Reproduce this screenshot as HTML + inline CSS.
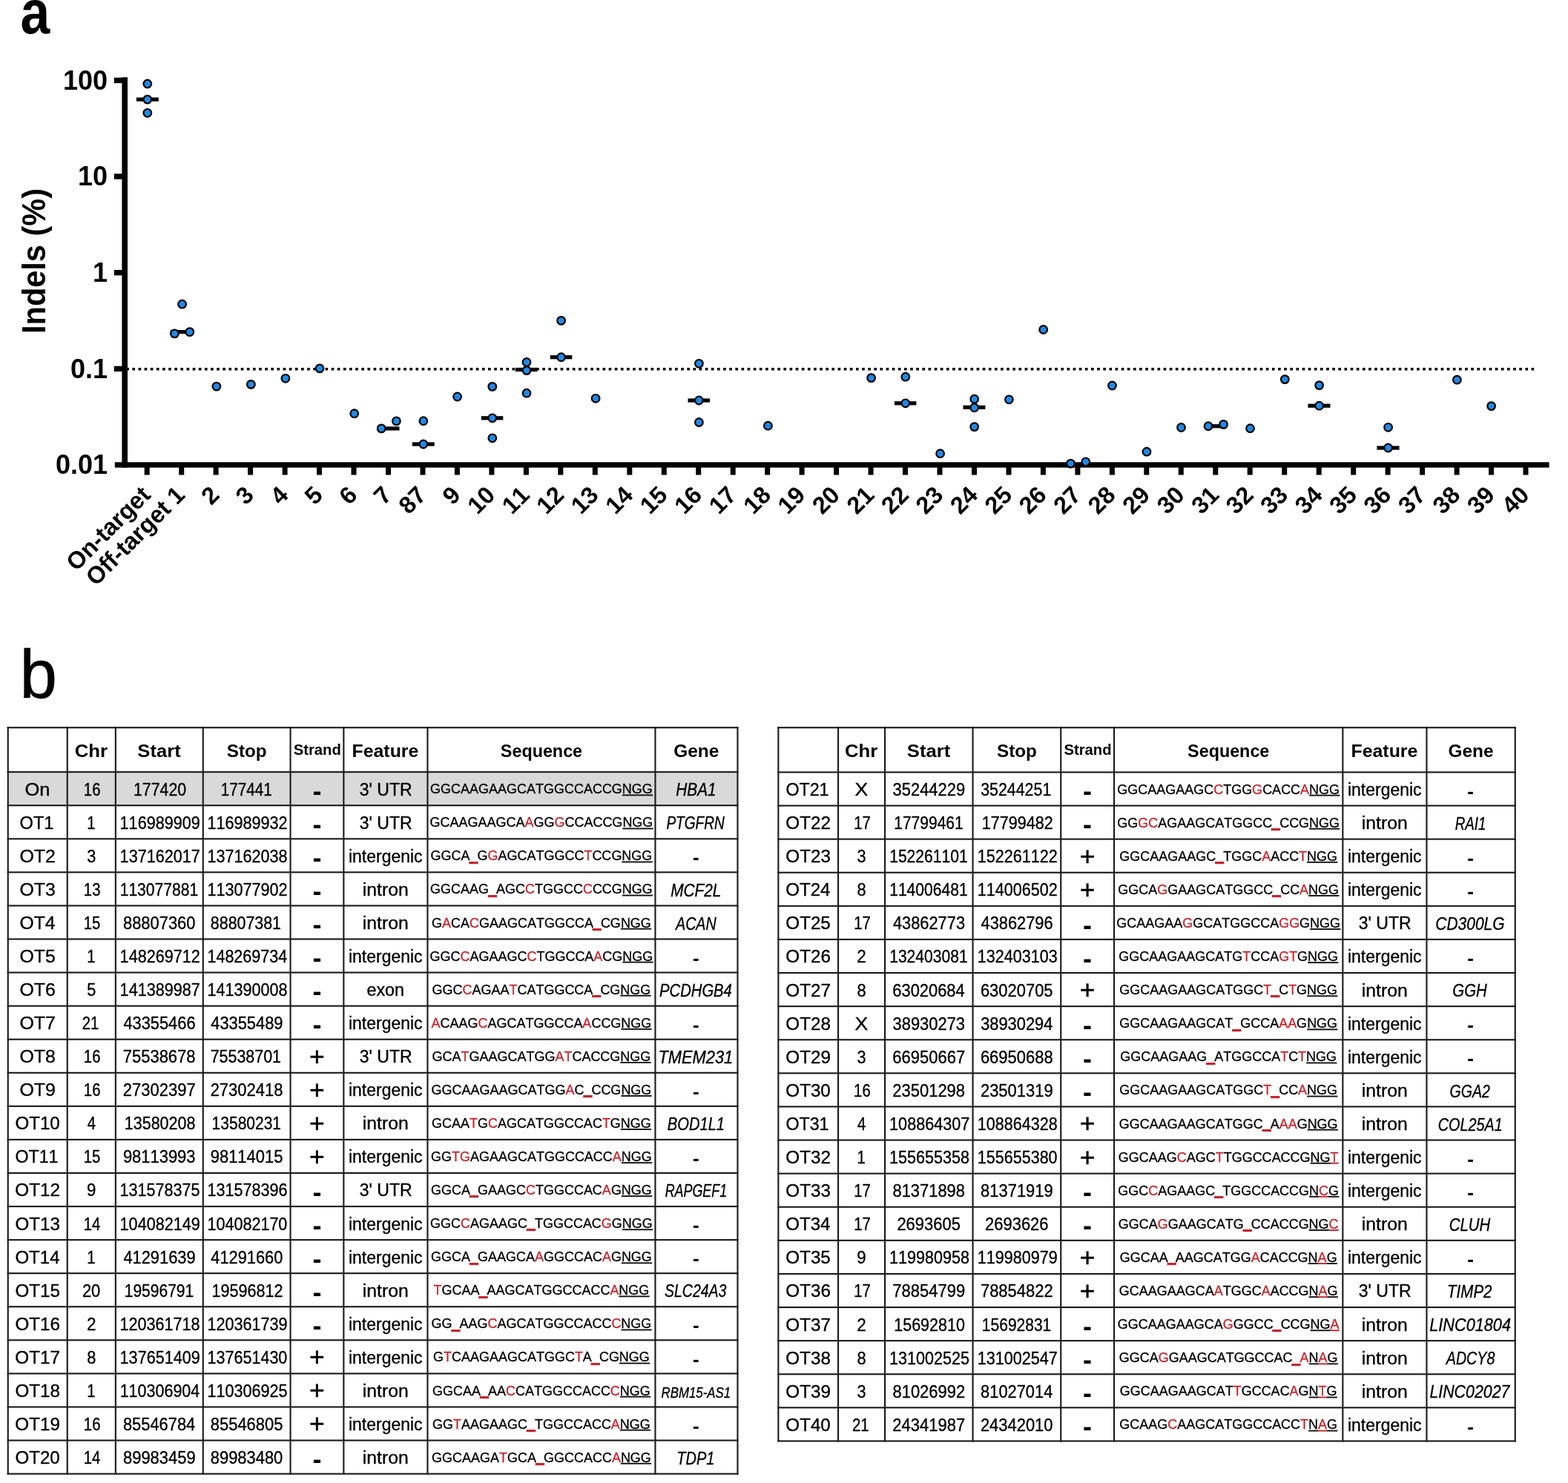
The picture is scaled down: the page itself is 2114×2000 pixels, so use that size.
<!DOCTYPE html>
<html><head><meta charset="utf-8"><title>Off-target indels</title>
<style>html,body{margin:0;padding:0;background:#fff;} svg{display:block;} text{font-kerning:none;}</style>
</head><body>
<svg width="2114" height="2000" viewBox="0 0 2114 2000" font-family="&quot;Liberation Sans&quot;, sans-serif" fill="#000"><g id="chart">
<rect x="164.4" y="104.2" width="7.6" height="526.4" fill="#000"/>
<rect x="153.8" y="104.7" width="12" height="7.4" fill="#000"/>
<rect x="153.8" y="234.3" width="12" height="7.4" fill="#000"/>
<rect x="153.8" y="364.0" width="12" height="7.4" fill="#000"/>
<rect x="153.8" y="493.7" width="12" height="7.4" fill="#000"/>
<rect x="154.8" y="623.3" width="1933.8" height="7.3" fill="#000"/>
<rect x="194.7" y="626" width="7" height="14.5" fill="#000"/>
<rect x="241.2" y="626" width="7" height="14.5" fill="#000"/>
<rect x="287.6" y="626" width="7" height="14.5" fill="#000"/>
<rect x="334.1" y="626" width="7" height="14.5" fill="#000"/>
<rect x="380.6" y="626" width="7" height="14.5" fill="#000"/>
<rect x="427.0" y="626" width="7" height="14.5" fill="#000"/>
<rect x="473.5" y="626" width="7" height="14.5" fill="#000"/>
<rect x="520.0" y="626" width="7" height="14.5" fill="#000"/>
<rect x="566.5" y="626" width="7" height="14.5" fill="#000"/>
<rect x="612.9" y="626" width="7" height="14.5" fill="#000"/>
<rect x="659.4" y="626" width="7" height="14.5" fill="#000"/>
<rect x="705.9" y="626" width="7" height="14.5" fill="#000"/>
<rect x="752.3" y="626" width="7" height="14.5" fill="#000"/>
<rect x="798.8" y="626" width="7" height="14.5" fill="#000"/>
<rect x="845.3" y="626" width="7" height="14.5" fill="#000"/>
<rect x="891.8" y="626" width="7" height="14.5" fill="#000"/>
<rect x="938.2" y="626" width="7" height="14.5" fill="#000"/>
<rect x="984.7" y="626" width="7" height="14.5" fill="#000"/>
<rect x="1031.2" y="626" width="7" height="14.5" fill="#000"/>
<rect x="1077.6" y="626" width="7" height="14.5" fill="#000"/>
<rect x="1124.1" y="626" width="7" height="14.5" fill="#000"/>
<rect x="1170.6" y="626" width="7" height="14.5" fill="#000"/>
<rect x="1217.0" y="626" width="7" height="14.5" fill="#000"/>
<rect x="1263.5" y="626" width="7" height="14.5" fill="#000"/>
<rect x="1310.0" y="626" width="7" height="14.5" fill="#000"/>
<rect x="1356.5" y="626" width="7" height="14.5" fill="#000"/>
<rect x="1402.9" y="626" width="7" height="14.5" fill="#000"/>
<rect x="1449.4" y="626" width="7" height="14.5" fill="#000"/>
<rect x="1495.9" y="626" width="7" height="14.5" fill="#000"/>
<rect x="1542.3" y="626" width="7" height="14.5" fill="#000"/>
<rect x="1588.8" y="626" width="7" height="14.5" fill="#000"/>
<rect x="1635.3" y="626" width="7" height="14.5" fill="#000"/>
<rect x="1681.7" y="626" width="7" height="14.5" fill="#000"/>
<rect x="1728.2" y="626" width="7" height="14.5" fill="#000"/>
<rect x="1774.7" y="626" width="7" height="14.5" fill="#000"/>
<rect x="1821.2" y="626" width="7" height="14.5" fill="#000"/>
<rect x="1867.6" y="626" width="7" height="14.5" fill="#000"/>
<rect x="1914.1" y="626" width="7" height="14.5" fill="#000"/>
<rect x="1960.6" y="626" width="7" height="14.5" fill="#000"/>
<rect x="2007.0" y="626" width="7" height="14.5" fill="#000"/>
<rect x="2053.5" y="626" width="7" height="14.5" fill="#000"/>
<line x1="170.25" y1="497.8" x2="2068.3" y2="497.8" stroke="#000" stroke-width="3.6" stroke-dasharray="3.65 4.48"/>
<rect x="183.9" y="131.5" width="29.9" height="5.2" fill="#000"/>
<rect x="229.7" y="445.0" width="30.0" height="5.2" fill="#000"/>
<rect x="508.5" y="575.3" width="30.0" height="5.2" fill="#000"/>
<rect x="555.8" y="596.4" width="29.9" height="5.2" fill="#000"/>
<rect x="648.8" y="561.2" width="29.5" height="5.2" fill="#000"/>
<rect x="694.9" y="495.9" width="29.5" height="5.2" fill="#000"/>
<rect x="741.8" y="479.1" width="29.5" height="5.2" fill="#000"/>
<rect x="927.5" y="537.4" width="29.5" height="5.2" fill="#000"/>
<rect x="1205.9" y="541.2" width="29.5" height="5.2" fill="#000"/>
<rect x="1298.5" y="546.7" width="29.9" height="5.2" fill="#000"/>
<rect x="1623.8" y="572.1" width="30.0" height="5.2" fill="#000"/>
<rect x="1763.4" y="544.6" width="30.1" height="5.2" fill="#000"/>
<rect x="1856.4" y="601.4" width="30.2" height="5.2" fill="#000"/>
<circle cx="198.8" cy="113" r="5.3" fill="#2089e6" stroke="#000" stroke-width="2.2"/>
<circle cx="198.8" cy="134.1" r="5.3" fill="#2089e6" stroke="#000" stroke-width="2.2"/>
<circle cx="198.8" cy="152.3" r="5.3" fill="#2089e6" stroke="#000" stroke-width="2.2"/>
<circle cx="245.6" cy="410.2" r="5.3" fill="#2089e6" stroke="#000" stroke-width="2.2"/>
<circle cx="235.4" cy="449.9" r="5.3" fill="#2089e6" stroke="#000" stroke-width="2.2"/>
<circle cx="255.8" cy="447.6" r="5.3" fill="#2089e6" stroke="#000" stroke-width="2.2"/>
<circle cx="291.9" cy="521.1" r="5.3" fill="#2089e6" stroke="#000" stroke-width="2.2"/>
<circle cx="338.4" cy="518.4" r="5.3" fill="#2089e6" stroke="#000" stroke-width="2.2"/>
<circle cx="384.9" cy="510.3" r="5.3" fill="#2089e6" stroke="#000" stroke-width="2.2"/>
<circle cx="431" cy="496.9" r="5.3" fill="#2089e6" stroke="#000" stroke-width="2.2"/>
<circle cx="477.7" cy="557.7" r="5.3" fill="#2089e6" stroke="#000" stroke-width="2.2"/>
<circle cx="514.2" cy="577.9" r="5.3" fill="#2089e6" stroke="#000" stroke-width="2.2"/>
<circle cx="534.4" cy="567.9" r="5.3" fill="#2089e6" stroke="#000" stroke-width="2.2"/>
<circle cx="570.8" cy="567.7" r="5.3" fill="#2089e6" stroke="#000" stroke-width="2.2"/>
<circle cx="570.8" cy="599" r="5.3" fill="#2089e6" stroke="#000" stroke-width="2.2"/>
<circle cx="616.6" cy="535" r="5.3" fill="#2089e6" stroke="#000" stroke-width="2.2"/>
<circle cx="663.8" cy="521.4" r="5.3" fill="#2089e6" stroke="#000" stroke-width="2.2"/>
<circle cx="663.8" cy="563.8" r="5.3" fill="#2089e6" stroke="#000" stroke-width="2.2"/>
<circle cx="663.8" cy="590.8" r="5.3" fill="#2089e6" stroke="#000" stroke-width="2.2"/>
<circle cx="710" cy="488.5" r="5.3" fill="#2089e6" stroke="#000" stroke-width="2.2"/>
<circle cx="710" cy="499.6" r="5.3" fill="#2089e6" stroke="#000" stroke-width="2.2"/>
<circle cx="710" cy="530.2" r="5.3" fill="#2089e6" stroke="#000" stroke-width="2.2"/>
<circle cx="756.6" cy="432.4" r="5.3" fill="#2089e6" stroke="#000" stroke-width="2.2"/>
<circle cx="756.6" cy="481.7" r="5.3" fill="#2089e6" stroke="#000" stroke-width="2.2"/>
<circle cx="803.1" cy="537.3" r="5.3" fill="#2089e6" stroke="#000" stroke-width="2.2"/>
<circle cx="942.4" cy="490.3" r="5.3" fill="#2089e6" stroke="#000" stroke-width="2.2"/>
<circle cx="942.4" cy="540" r="5.3" fill="#2089e6" stroke="#000" stroke-width="2.2"/>
<circle cx="942.4" cy="569.5" r="5.3" fill="#2089e6" stroke="#000" stroke-width="2.2"/>
<circle cx="1035.4" cy="574.2" r="5.3" fill="#2089e6" stroke="#000" stroke-width="2.2"/>
<circle cx="1174.6" cy="509.6" r="5.3" fill="#2089e6" stroke="#000" stroke-width="2.2"/>
<circle cx="1220.8" cy="508.2" r="5.3" fill="#2089e6" stroke="#000" stroke-width="2.2"/>
<circle cx="1220.8" cy="543.8" r="5.3" fill="#2089e6" stroke="#000" stroke-width="2.2"/>
<circle cx="1267.6" cy="611.7" r="5.3" fill="#2089e6" stroke="#000" stroke-width="2.2"/>
<circle cx="1313.7" cy="538.2" r="5.3" fill="#2089e6" stroke="#000" stroke-width="2.2"/>
<circle cx="1313.7" cy="549.7" r="5.3" fill="#2089e6" stroke="#000" stroke-width="2.2"/>
<circle cx="1313.7" cy="575.6" r="5.3" fill="#2089e6" stroke="#000" stroke-width="2.2"/>
<circle cx="1360.4" cy="538.8" r="5.3" fill="#2089e6" stroke="#000" stroke-width="2.2"/>
<circle cx="1406.7" cy="444.5" r="5.3" fill="#2089e6" stroke="#000" stroke-width="2.2"/>
<circle cx="1443.5" cy="625.1" r="5.3" fill="#2089e6" stroke="#000" stroke-width="2.2"/>
<circle cx="1463.8" cy="622.8" r="5.3" fill="#2089e6" stroke="#000" stroke-width="2.2"/>
<circle cx="1499.5" cy="520" r="5.3" fill="#2089e6" stroke="#000" stroke-width="2.2"/>
<circle cx="1546" cy="609.2" r="5.3" fill="#2089e6" stroke="#000" stroke-width="2.2"/>
<circle cx="1592.5" cy="576.5" r="5.3" fill="#2089e6" stroke="#000" stroke-width="2.2"/>
<circle cx="1629" cy="574.7" r="5.3" fill="#2089e6" stroke="#000" stroke-width="2.2"/>
<circle cx="1649.5" cy="572.4" r="5.3" fill="#2089e6" stroke="#000" stroke-width="2.2"/>
<circle cx="1685.5" cy="577.7" r="5.3" fill="#2089e6" stroke="#000" stroke-width="2.2"/>
<circle cx="1732.3" cy="511.6" r="5.3" fill="#2089e6" stroke="#000" stroke-width="2.2"/>
<circle cx="1778.6" cy="519.6" r="5.3" fill="#2089e6" stroke="#000" stroke-width="2.2"/>
<circle cx="1778.6" cy="547.2" r="5.3" fill="#2089e6" stroke="#000" stroke-width="2.2"/>
<circle cx="1871.6" cy="576.3" r="5.3" fill="#2089e6" stroke="#000" stroke-width="2.2"/>
<circle cx="1871.6" cy="604" r="5.3" fill="#2089e6" stroke="#000" stroke-width="2.2"/>
<circle cx="1964.4" cy="512.2" r="5.3" fill="#2089e6" stroke="#000" stroke-width="2.2"/>
<circle cx="2010.6" cy="547.6" r="5.3" fill="#2089e6" stroke="#000" stroke-width="2.2"/>
<text x="145" y="120.5" font-size="36" font-weight="bold" text-anchor="end">100</text>
<text x="145" y="250.1" font-size="36" font-weight="bold" text-anchor="end">10</text>
<text x="145" y="379.8" font-size="36" font-weight="bold" text-anchor="end">1</text>
<text x="145" y="509.5" font-size="36" font-weight="bold" text-anchor="end">0.1</text>
<text x="145" y="639.1" font-size="36" font-weight="bold" text-anchor="end">0.01</text>
<text transform="translate(60.6,352) rotate(-90)" font-size="44" font-weight="bold" text-anchor="middle" textLength="196" lengthAdjust="spacingAndGlyphs">Indels (%)</text>
<text transform="translate(204.7,669.5) rotate(-45)" font-size="32.5" font-weight="bold" text-anchor="end" textLength="144.1" lengthAdjust="spacingAndGlyphs">On-target</text>
<text transform="translate(251.2,669.5) rotate(-45)" font-size="32.5" font-weight="bold" text-anchor="end" textLength="172.5" lengthAdjust="spacingAndGlyphs">Off-target 1</text>
<text transform="translate(297.6,669.5) rotate(-45)" font-size="32.5" font-weight="bold" text-anchor="end">2</text>
<text transform="translate(344.1,669.5) rotate(-45)" font-size="32.5" font-weight="bold" text-anchor="end">3</text>
<text transform="translate(390.6,669.5) rotate(-45)" font-size="32.5" font-weight="bold" text-anchor="end">4</text>
<text transform="translate(437.0,669.5) rotate(-45)" font-size="32.5" font-weight="bold" text-anchor="end">5</text>
<text transform="translate(483.5,669.5) rotate(-45)" font-size="32.5" font-weight="bold" text-anchor="end">6</text>
<text transform="translate(530.0,669.5) rotate(-45)" font-size="32.5" font-weight="bold" text-anchor="end">7</text>
<text transform="translate(576.5,669.5) rotate(-45)" font-size="32.5" font-weight="bold" text-anchor="end">87</text>
<text transform="translate(622.9,669.5) rotate(-45)" font-size="32.5" font-weight="bold" text-anchor="end">9</text>
<text transform="translate(669.4,669.5) rotate(-45)" font-size="32.5" font-weight="bold" text-anchor="end">10</text>
<text transform="translate(715.9,669.5) rotate(-45)" font-size="32.5" font-weight="bold" text-anchor="end">11</text>
<text transform="translate(762.3,669.5) rotate(-45)" font-size="32.5" font-weight="bold" text-anchor="end">12</text>
<text transform="translate(808.8,669.5) rotate(-45)" font-size="32.5" font-weight="bold" text-anchor="end">13</text>
<text transform="translate(855.3,669.5) rotate(-45)" font-size="32.5" font-weight="bold" text-anchor="end">14</text>
<text transform="translate(901.8,669.5) rotate(-45)" font-size="32.5" font-weight="bold" text-anchor="end">15</text>
<text transform="translate(948.2,669.5) rotate(-45)" font-size="32.5" font-weight="bold" text-anchor="end">16</text>
<text transform="translate(994.7,669.5) rotate(-45)" font-size="32.5" font-weight="bold" text-anchor="end">17</text>
<text transform="translate(1041.2,669.5) rotate(-45)" font-size="32.5" font-weight="bold" text-anchor="end">18</text>
<text transform="translate(1087.6,669.5) rotate(-45)" font-size="32.5" font-weight="bold" text-anchor="end">19</text>
<text transform="translate(1134.1,669.5) rotate(-45)" font-size="32.5" font-weight="bold" text-anchor="end">20</text>
<text transform="translate(1180.6,669.5) rotate(-45)" font-size="32.5" font-weight="bold" text-anchor="end">21</text>
<text transform="translate(1227.0,669.5) rotate(-45)" font-size="32.5" font-weight="bold" text-anchor="end">22</text>
<text transform="translate(1273.5,669.5) rotate(-45)" font-size="32.5" font-weight="bold" text-anchor="end">23</text>
<text transform="translate(1320.0,669.5) rotate(-45)" font-size="32.5" font-weight="bold" text-anchor="end">24</text>
<text transform="translate(1366.5,669.5) rotate(-45)" font-size="32.5" font-weight="bold" text-anchor="end">25</text>
<text transform="translate(1412.9,669.5) rotate(-45)" font-size="32.5" font-weight="bold" text-anchor="end">26</text>
<text transform="translate(1459.4,669.5) rotate(-45)" font-size="32.5" font-weight="bold" text-anchor="end">27</text>
<text transform="translate(1505.9,669.5) rotate(-45)" font-size="32.5" font-weight="bold" text-anchor="end">28</text>
<text transform="translate(1552.3,669.5) rotate(-45)" font-size="32.5" font-weight="bold" text-anchor="end">29</text>
<text transform="translate(1598.8,669.5) rotate(-45)" font-size="32.5" font-weight="bold" text-anchor="end">30</text>
<text transform="translate(1645.3,669.5) rotate(-45)" font-size="32.5" font-weight="bold" text-anchor="end">31</text>
<text transform="translate(1691.7,669.5) rotate(-45)" font-size="32.5" font-weight="bold" text-anchor="end">32</text>
<text transform="translate(1738.2,669.5) rotate(-45)" font-size="32.5" font-weight="bold" text-anchor="end">33</text>
<text transform="translate(1784.7,669.5) rotate(-45)" font-size="32.5" font-weight="bold" text-anchor="end">34</text>
<text transform="translate(1831.2,669.5) rotate(-45)" font-size="32.5" font-weight="bold" text-anchor="end">35</text>
<text transform="translate(1877.6,669.5) rotate(-45)" font-size="32.5" font-weight="bold" text-anchor="end">36</text>
<text transform="translate(1924.1,669.5) rotate(-45)" font-size="32.5" font-weight="bold" text-anchor="end">37</text>
<text transform="translate(1970.6,669.5) rotate(-45)" font-size="32.5" font-weight="bold" text-anchor="end">38</text>
<text transform="translate(2017.0,669.5) rotate(-45)" font-size="32.5" font-weight="bold" text-anchor="end">39</text>
<text transform="translate(2063.5,669.5) rotate(-45)" font-size="32.5" font-weight="bold" text-anchor="end">40</text>
</g>
<text transform="translate(27.6,45.4) scale(0.864,1)" font-size="82.7" font-weight="bold">a</text>
<text transform="translate(26.7,941) scale(0.97,1)" font-size="93" stroke="#000" stroke-width="0.7">b</text>
<rect x="10.7" y="1041.1" width="983.6999999999999" height="45.07" fill="#d9d9d9"/>
<rect x="9.7" y="980.20" width="985.6999999999999" height="2.1" fill="#1a1a1a"/>
<rect x="9.7" y="1040.10" width="985.6999999999999" height="2.1" fill="#1a1a1a"/>
<rect x="9.7" y="1085.17" width="985.6999999999999" height="2.1" fill="#1a1a1a"/>
<rect x="9.7" y="1130.24" width="985.6999999999999" height="2.1" fill="#1a1a1a"/>
<rect x="9.7" y="1175.31" width="985.6999999999999" height="2.1" fill="#1a1a1a"/>
<rect x="9.7" y="1220.38" width="985.6999999999999" height="2.1" fill="#1a1a1a"/>
<rect x="9.7" y="1265.45" width="985.6999999999999" height="2.1" fill="#1a1a1a"/>
<rect x="9.7" y="1310.52" width="985.6999999999999" height="2.1" fill="#1a1a1a"/>
<rect x="9.7" y="1355.59" width="985.6999999999999" height="2.1" fill="#1a1a1a"/>
<rect x="9.7" y="1400.66" width="985.6999999999999" height="2.1" fill="#1a1a1a"/>
<rect x="9.7" y="1445.73" width="985.6999999999999" height="2.1" fill="#1a1a1a"/>
<rect x="9.7" y="1490.80" width="985.6999999999999" height="2.1" fill="#1a1a1a"/>
<rect x="9.7" y="1535.87" width="985.6999999999999" height="2.1" fill="#1a1a1a"/>
<rect x="9.7" y="1580.94" width="985.6999999999999" height="2.1" fill="#1a1a1a"/>
<rect x="9.7" y="1626.01" width="985.6999999999999" height="2.1" fill="#1a1a1a"/>
<rect x="9.7" y="1671.08" width="985.6999999999999" height="2.1" fill="#1a1a1a"/>
<rect x="9.7" y="1716.15" width="985.6999999999999" height="2.1" fill="#1a1a1a"/>
<rect x="9.7" y="1761.22" width="985.6999999999999" height="2.1" fill="#1a1a1a"/>
<rect x="9.7" y="1806.29" width="985.6999999999999" height="2.1" fill="#1a1a1a"/>
<rect x="9.7" y="1851.36" width="985.6999999999999" height="2.1" fill="#1a1a1a"/>
<rect x="9.7" y="1896.43" width="985.6999999999999" height="2.1" fill="#1a1a1a"/>
<rect x="9.7" y="1941.50" width="985.6999999999999" height="2.1" fill="#1a1a1a"/>
<rect x="9.7" y="1986.57" width="985.6999999999999" height="2.1" fill="#1a1a1a"/>
<rect x="9.70" y="980.2" width="2.1" height="1008.37" fill="#1a1a1a"/>
<rect x="89.70" y="980.2" width="2.1" height="1008.37" fill="#1a1a1a"/>
<rect x="154.80" y="980.2" width="2.1" height="1008.37" fill="#1a1a1a"/>
<rect x="272.70" y="980.2" width="2.1" height="1008.37" fill="#1a1a1a"/>
<rect x="390.50" y="980.2" width="2.1" height="1008.37" fill="#1a1a1a"/>
<rect x="462.30" y="980.2" width="2.1" height="1008.37" fill="#1a1a1a"/>
<rect x="575.40" y="980.2" width="2.1" height="1008.37" fill="#1a1a1a"/>
<rect x="882.40" y="980.2" width="2.1" height="1008.37" fill="#1a1a1a"/>
<rect x="993.40" y="980.2" width="2.1" height="1008.37" fill="#1a1a1a"/>
<text x="100.69" y="1020.5" font-size="24" font-weight="bold" textLength="44.45" lengthAdjust="spacingAndGlyphs">Chr</text>
<text x="185.36" y="1020.5" font-size="24" font-weight="bold" textLength="58.35" lengthAdjust="spacingAndGlyphs">Start</text>
<text x="305.80" y="1020.5" font-size="24" font-weight="bold" textLength="53.89" lengthAdjust="spacingAndGlyphs">Stop</text>
<text x="395.72" y="1017.9" font-size="20.5" font-weight="bold" textLength="64.12" lengthAdjust="spacingAndGlyphs">Strand</text>
<text x="474.54" y="1020.5" font-size="24" font-weight="bold" textLength="89.81" lengthAdjust="spacingAndGlyphs">Feature</text>
<text x="674.83" y="1020.5" font-size="24" font-weight="bold" textLength="110.27" lengthAdjust="spacingAndGlyphs">Sequence</text>
<text x="908.25" y="1020.5" font-size="24" font-weight="bold" textLength="61.14" lengthAdjust="spacingAndGlyphs">Gene</text>
<text x="33.57" y="1072.6" font-size="24.2" textLength="33.97" lengthAdjust="spacingAndGlyphs" stroke="#000" stroke-width="0.35">On</text>
<text x="112.84" y="1072.6" font-size="24.2" textLength="22.61" lengthAdjust="spacingAndGlyphs" stroke="#000" stroke-width="0.35">16</text>
<text x="179.94" y="1072.6" font-size="24.2" textLength="71.27" lengthAdjust="spacingAndGlyphs" stroke="#000" stroke-width="0.35">177420</text>
<text x="297.84" y="1072.6" font-size="24.2" textLength="68.95" lengthAdjust="spacingAndGlyphs" stroke="#000" stroke-width="0.35">177441</text>
<text x="427.4" y="1078.8" font-size="36" font-weight="bold" text-anchor="middle">-</text>
<text x="484.69" y="1072.6" font-size="24.2" textLength="71.00" lengthAdjust="spacingAndGlyphs" stroke="#000" stroke-width="0.35">3' UTR</text>
<g transform="translate(579.94,0) scale(0.947,1)"><text y="1070.3" font-size="19.0" stroke="#000" stroke-width="0.3"><tspan x="0.00" y="1070.3">G</tspan><tspan x="14.78" y="1070.3">G</tspan><tspan x="29.56" y="1070.3">C</tspan><tspan x="43.28" y="1070.3">A</tspan><tspan x="55.95" y="1070.3">A</tspan><tspan x="68.62" y="1070.3">G</tspan><tspan x="83.40" y="1070.3">A</tspan><tspan x="96.08" y="1070.3">A</tspan><tspan x="108.75" y="1070.3">G</tspan><tspan x="123.53" y="1070.3">C</tspan><tspan x="137.25" y="1070.3">A</tspan><tspan x="149.92" y="1070.3">T</tspan><tspan x="161.53" y="1070.3">G</tspan><tspan x="176.31" y="1070.3">G</tspan><tspan x="191.09" y="1070.3">C</tspan><tspan x="204.81" y="1070.3">C</tspan><tspan x="218.53" y="1070.3">A</tspan><tspan x="231.20" y="1070.3">C</tspan><tspan x="244.92" y="1070.3">C</tspan><tspan x="258.64" y="1070.3">G</tspan><tspan x="273.42" y="1070.3">N</tspan><tspan x="287.14" y="1070.3">G</tspan><tspan x="301.92" y="1070.3">G</tspan></text><rect x="273.42" y="1071.4" width="14.02" height="1.9" fill="#111"/><rect x="287.14" y="1071.4" width="15.08" height="1.9" fill="#111"/><rect x="301.92" y="1071.4" width="15.08" height="1.9" fill="#111"/></g>
<text x="911.31" y="1073.3" font-size="24.2" font-style="italic" textLength="54.30" lengthAdjust="spacingAndGlyphs" stroke="#000" stroke-width="0.35">HBA1</text>
<text x="26.52" y="1117.7" font-size="24.2" textLength="45.95" lengthAdjust="spacingAndGlyphs" stroke="#000" stroke-width="0.35">OT1</text>
<text x="117.32" y="1117.7" font-size="24.2" textLength="11.31" lengthAdjust="spacingAndGlyphs" stroke="#000" stroke-width="0.35">1</text>
<text x="161.62" y="1117.7" font-size="24.2" textLength="108.08" lengthAdjust="spacingAndGlyphs" stroke="#000" stroke-width="0.35">116989909</text>
<text x="279.47" y="1117.7" font-size="24.2" textLength="108.14" lengthAdjust="spacingAndGlyphs" stroke="#000" stroke-width="0.35">116989932</text>
<text x="427.4" y="1123.9" font-size="36" font-weight="bold" text-anchor="middle">-</text>
<text x="484.69" y="1117.7" font-size="24.2" textLength="71.00" lengthAdjust="spacingAndGlyphs" stroke="#000" stroke-width="0.35">3' UTR</text>
<g transform="translate(579.44,0) scale(0.947,1)"><text y="1115.4" font-size="19.0" stroke="#000" stroke-width="0.3"><tspan x="0.00" y="1115.4">G</tspan><tspan x="14.78" y="1115.4">C</tspan><tspan x="28.50" y="1115.4">A</tspan><tspan x="41.17" y="1115.4">A</tspan><tspan x="53.85" y="1115.4">G</tspan><tspan x="68.62" y="1115.4">A</tspan><tspan x="81.30" y="1115.4">A</tspan><tspan x="93.97" y="1115.4">G</tspan><tspan x="108.75" y="1115.4">C</tspan><tspan x="122.47" y="1115.4">A</tspan><tspan x="135.14" y="1115.4" fill="#c4262e" stroke="#c4262e">A</tspan><tspan x="147.82" y="1115.4">G</tspan><tspan x="162.59" y="1115.4">G</tspan><tspan x="177.37" y="1115.4" fill="#c4262e" stroke="#c4262e">G</tspan><tspan x="192.15" y="1115.4">C</tspan><tspan x="205.87" y="1115.4">C</tspan><tspan x="219.59" y="1115.4">A</tspan><tspan x="232.27" y="1115.4">C</tspan><tspan x="245.99" y="1115.4">C</tspan><tspan x="259.71" y="1115.4">G</tspan><tspan x="274.49" y="1115.4">N</tspan><tspan x="288.21" y="1115.4">G</tspan><tspan x="302.99" y="1115.4">G</tspan></text><rect x="274.49" y="1116.5" width="14.02" height="1.9" fill="#111"/><rect x="288.21" y="1116.5" width="15.08" height="1.9" fill="#111"/><rect x="302.99" y="1116.5" width="15.08" height="1.9" fill="#111"/></g>
<text x="898.41" y="1118.4" font-size="24.2" font-style="italic" textLength="78.38" lengthAdjust="spacingAndGlyphs" stroke="#000" stroke-width="0.35">PTGFRN</text>
<text x="26.46" y="1162.7" font-size="24.2" textLength="48.55" lengthAdjust="spacingAndGlyphs" stroke="#000" stroke-width="0.35">OT2</text>
<text x="117.30" y="1162.7" font-size="24.2" textLength="12.02" lengthAdjust="spacingAndGlyphs" stroke="#000" stroke-width="0.35">3</text>
<text x="161.62" y="1162.7" font-size="24.2" textLength="108.14" lengthAdjust="spacingAndGlyphs" stroke="#000" stroke-width="0.35">137162017</text>
<text x="279.47" y="1162.7" font-size="24.2" textLength="107.99" lengthAdjust="spacingAndGlyphs" stroke="#000" stroke-width="0.35">137162038</text>
<text x="427.4" y="1168.9" font-size="36" font-weight="bold" text-anchor="middle">-</text>
<text x="470.00" y="1162.7" font-size="24.2" textLength="99.50" lengthAdjust="spacingAndGlyphs" stroke="#000" stroke-width="0.35">intergenic</text>
<g transform="translate(580.45,0) scale(0.947,1)"><text y="1160.4" font-size="19.0" stroke="#000" stroke-width="0.3"><tspan x="0.00" y="1160.4">G</tspan><tspan x="14.78" y="1160.4">G</tspan><tspan x="29.56" y="1160.4">C</tspan><tspan x="43.28" y="1160.4">A</tspan><tspan x="55.95" y="1159.7" fill="#c4262e" stroke="#c4262e" stroke-width="2.0">_</tspan><tspan x="66.52" y="1160.4">G</tspan><tspan x="81.30" y="1160.4" fill="#c4262e" stroke="#c4262e">G</tspan><tspan x="96.08" y="1160.4">A</tspan><tspan x="108.75" y="1160.4">G</tspan><tspan x="123.53" y="1160.4">C</tspan><tspan x="137.25" y="1160.4">A</tspan><tspan x="149.92" y="1160.4">T</tspan><tspan x="161.53" y="1160.4">G</tspan><tspan x="176.31" y="1160.4">G</tspan><tspan x="191.09" y="1160.4">C</tspan><tspan x="204.81" y="1160.4">C</tspan><tspan x="218.53" y="1160.4" fill="#c4262e" stroke="#c4262e">T</tspan><tspan x="230.13" y="1160.4">C</tspan><tspan x="243.85" y="1160.4">C</tspan><tspan x="257.58" y="1160.4">G</tspan><tspan x="272.35" y="1160.4">N</tspan><tspan x="286.08" y="1160.4">G</tspan><tspan x="300.85" y="1160.4">G</tspan></text><rect x="272.35" y="1161.5" width="14.02" height="1.9" fill="#111"/><rect x="286.08" y="1161.5" width="15.08" height="1.9" fill="#111"/><rect x="300.85" y="1161.5" width="15.08" height="1.9" fill="#111"/></g>
<text x="938.3" y="1165.4" font-size="26" font-weight="bold" text-anchor="middle">-</text>
<text x="26.46" y="1207.8" font-size="24.2" textLength="48.39" lengthAdjust="spacingAndGlyphs" stroke="#000" stroke-width="0.35">OT3</text>
<text x="112.84" y="1207.8" font-size="24.2" textLength="22.61" lengthAdjust="spacingAndGlyphs" stroke="#000" stroke-width="0.35">13</text>
<text x="161.66" y="1207.8" font-size="24.2" textLength="105.61" lengthAdjust="spacingAndGlyphs" stroke="#000" stroke-width="0.35">113077881</text>
<text x="279.47" y="1207.8" font-size="24.2" textLength="108.14" lengthAdjust="spacingAndGlyphs" stroke="#000" stroke-width="0.35">113077902</text>
<text x="427.4" y="1214.0" font-size="36" font-weight="bold" text-anchor="middle">-</text>
<text x="488.85" y="1207.8" font-size="24.2" textLength="61.95" lengthAdjust="spacingAndGlyphs" stroke="#000" stroke-width="0.35">intron</text>
<g transform="translate(579.95,0) scale(0.947,1)"><text y="1205.5" font-size="19.0" stroke="#000" stroke-width="0.3"><tspan x="0.00" y="1205.5">G</tspan><tspan x="14.78" y="1205.5">G</tspan><tspan x="29.56" y="1205.5">C</tspan><tspan x="43.28" y="1205.5">A</tspan><tspan x="55.95" y="1205.5">A</tspan><tspan x="68.62" y="1205.5">G</tspan><tspan x="83.40" y="1204.8" fill="#c4262e" stroke="#c4262e" stroke-width="2.0">_</tspan><tspan x="93.97" y="1205.5">A</tspan><tspan x="106.64" y="1205.5">G</tspan><tspan x="121.42" y="1205.5">C</tspan><tspan x="135.14" y="1205.5" fill="#c4262e" stroke="#c4262e">C</tspan><tspan x="148.86" y="1205.5">T</tspan><tspan x="160.47" y="1205.5">G</tspan><tspan x="175.25" y="1205.5">G</tspan><tspan x="190.03" y="1205.5">C</tspan><tspan x="203.75" y="1205.5">C</tspan><tspan x="217.47" y="1205.5" fill="#c4262e" stroke="#c4262e">C</tspan><tspan x="231.19" y="1205.5">C</tspan><tspan x="244.91" y="1205.5">C</tspan><tspan x="258.63" y="1205.5">G</tspan><tspan x="273.41" y="1205.5">N</tspan><tspan x="287.13" y="1205.5">G</tspan><tspan x="301.91" y="1205.5">G</tspan></text><rect x="273.41" y="1206.6" width="14.02" height="1.9" fill="#111"/><rect x="287.13" y="1206.6" width="15.08" height="1.9" fill="#111"/><rect x="301.91" y="1206.6" width="15.08" height="1.9" fill="#111"/></g>
<text x="904.16" y="1208.5" font-size="24.2" font-style="italic" textLength="68.30" lengthAdjust="spacingAndGlyphs" stroke="#000" stroke-width="0.35">MCF2L</text>
<text x="26.47" y="1252.9" font-size="24.2" textLength="48.01" lengthAdjust="spacingAndGlyphs" stroke="#000" stroke-width="0.35">OT4</text>
<text x="112.82" y="1252.9" font-size="24.2" textLength="22.61" lengthAdjust="spacingAndGlyphs" stroke="#000" stroke-width="0.35">15</text>
<text x="165.97" y="1252.9" font-size="24.2" textLength="97.46" lengthAdjust="spacingAndGlyphs" stroke="#000" stroke-width="0.35">88807360</text>
<text x="283.85" y="1252.9" font-size="24.2" textLength="95.18" lengthAdjust="spacingAndGlyphs" stroke="#000" stroke-width="0.35">88807381</text>
<text x="427.4" y="1259.1" font-size="36" font-weight="bold" text-anchor="middle">-</text>
<text x="488.85" y="1252.9" font-size="24.2" textLength="61.95" lengthAdjust="spacingAndGlyphs" stroke="#000" stroke-width="0.35">intron</text>
<g transform="translate(581.94,0) scale(0.947,1)"><text y="1250.6" font-size="19.0" stroke="#000" stroke-width="0.3"><tspan x="0.00" y="1250.6">G</tspan><tspan x="14.78" y="1250.6" fill="#c4262e" stroke="#c4262e">A</tspan><tspan x="27.45" y="1250.6">C</tspan><tspan x="41.17" y="1250.6">A</tspan><tspan x="53.85" y="1250.6" fill="#c4262e" stroke="#c4262e">C</tspan><tspan x="67.57" y="1250.6">G</tspan><tspan x="82.35" y="1250.6">A</tspan><tspan x="95.02" y="1250.6">A</tspan><tspan x="107.69" y="1250.6">G</tspan><tspan x="122.47" y="1250.6">C</tspan><tspan x="136.19" y="1250.6">A</tspan><tspan x="148.86" y="1250.6">T</tspan><tspan x="160.47" y="1250.6">G</tspan><tspan x="175.25" y="1250.6">G</tspan><tspan x="190.03" y="1250.6">C</tspan><tspan x="203.75" y="1250.6">C</tspan><tspan x="217.47" y="1250.6">A</tspan><tspan x="230.14" y="1249.9" fill="#c4262e" stroke="#c4262e" stroke-width="2.0">_</tspan><tspan x="240.71" y="1250.6">C</tspan><tspan x="254.43" y="1250.6">G</tspan><tspan x="269.21" y="1250.6">N</tspan><tspan x="282.93" y="1250.6">G</tspan><tspan x="297.71" y="1250.6">G</tspan></text><rect x="269.21" y="1251.7" width="14.02" height="1.9" fill="#111"/><rect x="282.93" y="1251.7" width="15.08" height="1.9" fill="#111"/><rect x="297.71" y="1251.7" width="15.08" height="1.9" fill="#111"/></g>
<text x="911.12" y="1253.6" font-size="24.2" font-style="italic" textLength="54.52" lengthAdjust="spacingAndGlyphs" stroke="#000" stroke-width="0.35">ACAN</text>
<text x="26.46" y="1297.9" font-size="24.2" textLength="48.34" lengthAdjust="spacingAndGlyphs" stroke="#000" stroke-width="0.35">OT5</text>
<text x="117.32" y="1297.9" font-size="24.2" textLength="11.31" lengthAdjust="spacingAndGlyphs" stroke="#000" stroke-width="0.35">1</text>
<text x="161.62" y="1297.9" font-size="24.2" textLength="108.14" lengthAdjust="spacingAndGlyphs" stroke="#000" stroke-width="0.35">148269712</text>
<text x="279.48" y="1297.9" font-size="24.2" textLength="107.68" lengthAdjust="spacingAndGlyphs" stroke="#000" stroke-width="0.35">148269734</text>
<text x="427.4" y="1304.1" font-size="36" font-weight="bold" text-anchor="middle">-</text>
<text x="470.00" y="1297.9" font-size="24.2" textLength="99.50" lengthAdjust="spacingAndGlyphs" stroke="#000" stroke-width="0.35">intergenic</text>
<g transform="translate(579.45,0) scale(0.947,1)"><text y="1295.6" font-size="19.0" stroke="#000" stroke-width="0.3"><tspan x="0.00" y="1295.6">G</tspan><tspan x="14.78" y="1295.6">G</tspan><tspan x="29.56" y="1295.6">C</tspan><tspan x="43.28" y="1295.6" fill="#c4262e" stroke="#c4262e">C</tspan><tspan x="57.00" y="1295.6">A</tspan><tspan x="69.67" y="1295.6">G</tspan><tspan x="84.45" y="1295.6">A</tspan><tspan x="97.12" y="1295.6">A</tspan><tspan x="109.80" y="1295.6">G</tspan><tspan x="124.58" y="1295.6">C</tspan><tspan x="138.30" y="1295.6" fill="#c4262e" stroke="#c4262e">C</tspan><tspan x="152.02" y="1295.6">T</tspan><tspan x="163.62" y="1295.6">G</tspan><tspan x="178.40" y="1295.6">G</tspan><tspan x="193.18" y="1295.6">C</tspan><tspan x="206.90" y="1295.6">C</tspan><tspan x="220.62" y="1295.6">A</tspan><tspan x="233.30" y="1295.6" fill="#c4262e" stroke="#c4262e">A</tspan><tspan x="245.97" y="1295.6">C</tspan><tspan x="259.69" y="1295.6">G</tspan><tspan x="274.47" y="1295.6">N</tspan><tspan x="288.19" y="1295.6">G</tspan><tspan x="302.97" y="1295.6">G</tspan></text><rect x="274.47" y="1296.7" width="14.02" height="1.9" fill="#111"/><rect x="288.19" y="1296.7" width="15.08" height="1.9" fill="#111"/><rect x="302.97" y="1296.7" width="15.08" height="1.9" fill="#111"/></g>
<text x="938.3" y="1300.6" font-size="26" font-weight="bold" text-anchor="middle">-</text>
<text x="26.46" y="1343.0" font-size="24.2" textLength="48.39" lengthAdjust="spacingAndGlyphs" stroke="#000" stroke-width="0.35">OT6</text>
<text x="117.26" y="1343.0" font-size="24.2" textLength="12.02" lengthAdjust="spacingAndGlyphs" stroke="#000" stroke-width="0.35">5</text>
<text x="161.62" y="1343.0" font-size="24.2" textLength="108.14" lengthAdjust="spacingAndGlyphs" stroke="#000" stroke-width="0.35">141389987</text>
<text x="279.47" y="1343.0" font-size="24.2" textLength="107.99" lengthAdjust="spacingAndGlyphs" stroke="#000" stroke-width="0.35">141390008</text>
<text x="427.4" y="1349.2" font-size="36" font-weight="bold" text-anchor="middle">-</text>
<text x="494.46" y="1343.0" font-size="24.2" textLength="50.57" lengthAdjust="spacingAndGlyphs" stroke="#000" stroke-width="0.35">exon</text>
<g transform="translate(582.44,0) scale(0.947,1)"><text y="1340.7" font-size="19.0" stroke="#000" stroke-width="0.3"><tspan x="0.00" y="1340.7">G</tspan><tspan x="14.78" y="1340.7">G</tspan><tspan x="29.56" y="1340.7">C</tspan><tspan x="43.28" y="1340.7" fill="#c4262e" stroke="#c4262e">C</tspan><tspan x="57.00" y="1340.7">A</tspan><tspan x="69.67" y="1340.7">G</tspan><tspan x="84.45" y="1340.7">A</tspan><tspan x="97.12" y="1340.7">A</tspan><tspan x="109.80" y="1340.7" fill="#c4262e" stroke="#c4262e">T</tspan><tspan x="121.40" y="1340.7">C</tspan><tspan x="135.12" y="1340.7">A</tspan><tspan x="147.80" y="1340.7">T</tspan><tspan x="159.40" y="1340.7">G</tspan><tspan x="174.18" y="1340.7">G</tspan><tspan x="188.96" y="1340.7">C</tspan><tspan x="202.68" y="1340.7">C</tspan><tspan x="216.40" y="1340.7">A</tspan><tspan x="229.08" y="1340.0" fill="#c4262e" stroke="#c4262e" stroke-width="2.0">_</tspan><tspan x="239.64" y="1340.7">C</tspan><tspan x="253.36" y="1340.7">G</tspan><tspan x="268.14" y="1340.7">N</tspan><tspan x="281.86" y="1340.7">G</tspan><tspan x="296.64" y="1340.7">G</tspan></text><rect x="268.14" y="1341.8" width="14.02" height="1.9" fill="#111"/><rect x="281.86" y="1341.8" width="15.08" height="1.9" fill="#111"/><rect x="296.64" y="1341.8" width="15.08" height="1.9" fill="#111"/></g>
<text x="889.08" y="1343.7" font-size="24.2" font-style="italic" textLength="97.78" lengthAdjust="spacingAndGlyphs" stroke="#000" stroke-width="0.35">PCDHGB4</text>
<text x="26.46" y="1388.1" font-size="24.2" textLength="48.55" lengthAdjust="spacingAndGlyphs" stroke="#000" stroke-width="0.35">OT7</text>
<text x="110.71" y="1388.1" font-size="24.2" textLength="22.61" lengthAdjust="spacingAndGlyphs" stroke="#000" stroke-width="0.35">21</text>
<text x="166.43" y="1388.1" font-size="24.2" textLength="97.11" lengthAdjust="spacingAndGlyphs" stroke="#000" stroke-width="0.35">43355466</text>
<text x="284.27" y="1388.1" font-size="24.2" textLength="97.18" lengthAdjust="spacingAndGlyphs" stroke="#000" stroke-width="0.35">43355489</text>
<text x="427.4" y="1394.3" font-size="36" font-weight="bold" text-anchor="middle">-</text>
<text x="470.00" y="1388.1" font-size="24.2" textLength="99.50" lengthAdjust="spacingAndGlyphs" stroke="#000" stroke-width="0.35">intergenic</text>
<g transform="translate(581.44,0) scale(0.947,1)"><text y="1385.8" font-size="19.0" stroke="#000" stroke-width="0.3"><tspan x="0.00" y="1385.8" fill="#c4262e" stroke="#c4262e">A</tspan><tspan x="12.67" y="1385.8">C</tspan><tspan x="26.39" y="1385.8">A</tspan><tspan x="39.07" y="1385.8">A</tspan><tspan x="51.74" y="1385.8">G</tspan><tspan x="66.52" y="1385.8" fill="#c4262e" stroke="#c4262e">C</tspan><tspan x="80.24" y="1385.8">A</tspan><tspan x="92.91" y="1385.8">G</tspan><tspan x="107.69" y="1385.8">C</tspan><tspan x="121.41" y="1385.8">A</tspan><tspan x="134.09" y="1385.8">T</tspan><tspan x="145.69" y="1385.8">G</tspan><tspan x="160.47" y="1385.8">G</tspan><tspan x="175.25" y="1385.8">C</tspan><tspan x="188.97" y="1385.8">C</tspan><tspan x="202.69" y="1385.8">A</tspan><tspan x="215.36" y="1385.8" fill="#c4262e" stroke="#c4262e">A</tspan><tspan x="228.04" y="1385.8">C</tspan><tspan x="241.76" y="1385.8">C</tspan><tspan x="255.48" y="1385.8">G</tspan><tspan x="270.26" y="1385.8">N</tspan><tspan x="283.98" y="1385.8">G</tspan><tspan x="298.76" y="1385.8">G</tspan></text><rect x="270.26" y="1386.9" width="14.02" height="1.9" fill="#111"/><rect x="283.98" y="1386.9" width="15.08" height="1.9" fill="#111"/><rect x="298.76" y="1386.9" width="15.08" height="1.9" fill="#111"/></g>
<text x="938.3" y="1390.8" font-size="26" font-weight="bold" text-anchor="middle">-</text>
<text x="26.46" y="1433.2" font-size="24.2" textLength="48.38" lengthAdjust="spacingAndGlyphs" stroke="#000" stroke-width="0.35">OT8</text>
<text x="112.84" y="1433.2" font-size="24.2" textLength="22.61" lengthAdjust="spacingAndGlyphs" stroke="#000" stroke-width="0.35">16</text>
<text x="165.80" y="1433.2" font-size="24.2" textLength="97.73" lengthAdjust="spacingAndGlyphs" stroke="#000" stroke-width="0.35">75538678</text>
<text x="283.68" y="1433.2" font-size="24.2" textLength="95.35" lengthAdjust="spacingAndGlyphs" stroke="#000" stroke-width="0.35">75538701</text>
<text x="427.4" y="1436.7" font-size="35.5" text-anchor="middle" stroke="#000" stroke-width="0.45">+</text>
<text x="484.69" y="1433.2" font-size="24.2" textLength="71.00" lengthAdjust="spacingAndGlyphs" stroke="#000" stroke-width="0.35">3' UTR</text>
<g transform="translate(582.45,0) scale(0.947,1)"><text y="1430.9" font-size="19.0" stroke="#000" stroke-width="0.3"><tspan x="0.00" y="1430.9">G</tspan><tspan x="14.78" y="1430.9">C</tspan><tspan x="28.50" y="1430.9">A</tspan><tspan x="41.17" y="1430.9" fill="#c4262e" stroke="#c4262e">T</tspan><tspan x="52.78" y="1430.9">G</tspan><tspan x="67.56" y="1430.9">A</tspan><tspan x="80.23" y="1430.9">A</tspan><tspan x="92.90" y="1430.9">G</tspan><tspan x="107.68" y="1430.9">C</tspan><tspan x="121.40" y="1430.9">A</tspan><tspan x="134.08" y="1430.9">T</tspan><tspan x="145.68" y="1430.9">G</tspan><tspan x="160.46" y="1430.9">G</tspan><tspan x="175.24" y="1430.9" fill="#c4262e" stroke="#c4262e">A</tspan><tspan x="187.91" y="1430.9" fill="#c4262e" stroke="#c4262e">T</tspan><tspan x="199.52" y="1430.9">C</tspan><tspan x="213.24" y="1430.9">A</tspan><tspan x="225.91" y="1430.9">C</tspan><tspan x="239.63" y="1430.9">C</tspan><tspan x="253.35" y="1430.9">G</tspan><tspan x="268.13" y="1430.9">N</tspan><tspan x="281.85" y="1430.9">G</tspan><tspan x="296.63" y="1430.9">G</tspan></text><rect x="268.13" y="1432.0" width="14.02" height="1.9" fill="#111"/><rect x="281.85" y="1432.0" width="15.08" height="1.9" fill="#111"/><rect x="296.63" y="1432.0" width="15.08" height="1.9" fill="#111"/></g>
<text x="887.38" y="1433.9" font-size="24.2" font-style="italic" textLength="100.91" lengthAdjust="spacingAndGlyphs" stroke="#000" stroke-width="0.35">TMEM231</text>
<text x="26.46" y="1478.2" font-size="24.2" textLength="48.48" lengthAdjust="spacingAndGlyphs" stroke="#000" stroke-width="0.35">OT9</text>
<text x="112.84" y="1478.2" font-size="24.2" textLength="22.61" lengthAdjust="spacingAndGlyphs" stroke="#000" stroke-width="0.35">16</text>
<text x="165.82" y="1478.2" font-size="24.2" textLength="97.86" lengthAdjust="spacingAndGlyphs" stroke="#000" stroke-width="0.35">27302397</text>
<text x="283.67" y="1478.2" font-size="24.2" textLength="97.71" lengthAdjust="spacingAndGlyphs" stroke="#000" stroke-width="0.35">27302418</text>
<text x="427.4" y="1481.7" font-size="35.5" text-anchor="middle" stroke="#000" stroke-width="0.45">+</text>
<text x="470.00" y="1478.2" font-size="24.2" textLength="99.50" lengthAdjust="spacingAndGlyphs" stroke="#000" stroke-width="0.35">intergenic</text>
<g transform="translate(581.44,0) scale(0.947,1)"><text y="1475.9" font-size="19.0" stroke="#000" stroke-width="0.3"><tspan x="0.00" y="1475.9">G</tspan><tspan x="14.78" y="1475.9">G</tspan><tspan x="29.56" y="1475.9">C</tspan><tspan x="43.28" y="1475.9">A</tspan><tspan x="55.95" y="1475.9">A</tspan><tspan x="68.62" y="1475.9">G</tspan><tspan x="83.40" y="1475.9">A</tspan><tspan x="96.08" y="1475.9">A</tspan><tspan x="108.75" y="1475.9">G</tspan><tspan x="123.53" y="1475.9">C</tspan><tspan x="137.25" y="1475.9">A</tspan><tspan x="149.92" y="1475.9">T</tspan><tspan x="161.53" y="1475.9">G</tspan><tspan x="176.31" y="1475.9">G</tspan><tspan x="191.09" y="1475.9" fill="#c4262e" stroke="#c4262e">A</tspan><tspan x="203.76" y="1475.9">C</tspan><tspan x="217.48" y="1475.2" fill="#c4262e" stroke="#c4262e" stroke-width="2.0">_</tspan><tspan x="228.05" y="1475.9">C</tspan><tspan x="241.77" y="1475.9">C</tspan><tspan x="255.49" y="1475.9">G</tspan><tspan x="270.27" y="1475.9">N</tspan><tspan x="283.99" y="1475.9">G</tspan><tspan x="298.77" y="1475.9">G</tspan></text><rect x="270.27" y="1477.0" width="14.02" height="1.9" fill="#111"/><rect x="283.99" y="1477.0" width="15.08" height="1.9" fill="#111"/><rect x="298.77" y="1477.0" width="15.08" height="1.9" fill="#111"/></g>
<text x="938.3" y="1480.9" font-size="26" font-weight="bold" text-anchor="middle">-</text>
<text x="20.40" y="1523.3" font-size="24.2" textLength="60.40" lengthAdjust="spacingAndGlyphs" stroke="#000" stroke-width="0.35">OT10</text>
<text x="117.66" y="1523.3" font-size="24.2" textLength="11.31" lengthAdjust="spacingAndGlyphs" stroke="#000" stroke-width="0.35">4</text>
<text x="167.73" y="1523.3" font-size="24.2" textLength="95.78" lengthAdjust="spacingAndGlyphs" stroke="#000" stroke-width="0.35">13580208</text>
<text x="285.62" y="1523.3" font-size="24.2" textLength="93.39" lengthAdjust="spacingAndGlyphs" stroke="#000" stroke-width="0.35">13580231</text>
<text x="427.4" y="1526.8" font-size="35.5" text-anchor="middle" stroke="#000" stroke-width="0.45">+</text>
<text x="488.85" y="1523.3" font-size="24.2" textLength="61.95" lengthAdjust="spacingAndGlyphs" stroke="#000" stroke-width="0.35">intron</text>
<g transform="translate(581.95,0) scale(0.947,1)"><text y="1521.0" font-size="19.0" stroke="#000" stroke-width="0.3"><tspan x="0.00" y="1521.0">G</tspan><tspan x="14.78" y="1521.0">C</tspan><tspan x="28.50" y="1521.0">A</tspan><tspan x="41.17" y="1521.0">A</tspan><tspan x="53.85" y="1521.0" fill="#c4262e" stroke="#c4262e">T</tspan><tspan x="65.45" y="1521.0">G</tspan><tspan x="80.23" y="1521.0" fill="#c4262e" stroke="#c4262e">C</tspan><tspan x="93.95" y="1521.0">A</tspan><tspan x="106.62" y="1521.0">G</tspan><tspan x="121.40" y="1521.0">C</tspan><tspan x="135.12" y="1521.0">A</tspan><tspan x="147.80" y="1521.0">T</tspan><tspan x="159.40" y="1521.0">G</tspan><tspan x="174.18" y="1521.0">G</tspan><tspan x="188.96" y="1521.0">C</tspan><tspan x="202.68" y="1521.0">C</tspan><tspan x="216.40" y="1521.0">A</tspan><tspan x="229.08" y="1521.0">C</tspan><tspan x="242.80" y="1521.0" fill="#c4262e" stroke="#c4262e">T</tspan><tspan x="254.40" y="1521.0">G</tspan><tspan x="269.18" y="1521.0">N</tspan><tspan x="282.90" y="1521.0">G</tspan><tspan x="297.68" y="1521.0">G</tspan></text><rect x="269.18" y="1522.1" width="14.02" height="1.9" fill="#111"/><rect x="282.90" y="1522.1" width="15.08" height="1.9" fill="#111"/><rect x="297.68" y="1522.1" width="15.08" height="1.9" fill="#111"/></g>
<text x="899.83" y="1524.0" font-size="24.2" font-style="italic" textLength="77.22" lengthAdjust="spacingAndGlyphs" stroke="#000" stroke-width="0.35">BOD1L1</text>
<text x="20.44" y="1568.4" font-size="24.2" textLength="58.11" lengthAdjust="spacingAndGlyphs" stroke="#000" stroke-width="0.35">OT11</text>
<text x="112.82" y="1568.4" font-size="24.2" textLength="22.61" lengthAdjust="spacingAndGlyphs" stroke="#000" stroke-width="0.35">15</text>
<text x="165.90" y="1568.4" font-size="24.2" textLength="97.64" lengthAdjust="spacingAndGlyphs" stroke="#000" stroke-width="0.35">98113993</text>
<text x="283.75" y="1568.4" font-size="24.2" textLength="97.60" lengthAdjust="spacingAndGlyphs" stroke="#000" stroke-width="0.35">98114015</text>
<text x="427.4" y="1571.9" font-size="35.5" text-anchor="middle" stroke="#000" stroke-width="0.45">+</text>
<text x="470.00" y="1568.4" font-size="24.2" textLength="99.50" lengthAdjust="spacingAndGlyphs" stroke="#000" stroke-width="0.35">intergenic</text>
<g transform="translate(580.94,0) scale(0.947,1)"><text y="1566.1" font-size="19.0" stroke="#000" stroke-width="0.3"><tspan x="0.00" y="1566.1">G</tspan><tspan x="14.78" y="1566.1">G</tspan><tspan x="29.56" y="1566.1" fill="#c4262e" stroke="#c4262e">T</tspan><tspan x="41.16" y="1566.1" fill="#c4262e" stroke="#c4262e">G</tspan><tspan x="55.94" y="1566.1">A</tspan><tspan x="68.62" y="1566.1">G</tspan><tspan x="83.39" y="1566.1">A</tspan><tspan x="96.07" y="1566.1">A</tspan><tspan x="108.74" y="1566.1">G</tspan><tspan x="123.52" y="1566.1">C</tspan><tspan x="137.24" y="1566.1">A</tspan><tspan x="149.91" y="1566.1">T</tspan><tspan x="161.52" y="1566.1">G</tspan><tspan x="176.30" y="1566.1">G</tspan><tspan x="191.08" y="1566.1">C</tspan><tspan x="204.80" y="1566.1">C</tspan><tspan x="218.52" y="1566.1">A</tspan><tspan x="231.19" y="1566.1">C</tspan><tspan x="244.91" y="1566.1">C</tspan><tspan x="258.63" y="1566.1" fill="#c4262e" stroke="#c4262e">A</tspan><tspan x="271.31" y="1566.1">N</tspan><tspan x="285.03" y="1566.1">G</tspan><tspan x="299.81" y="1566.1">G</tspan></text><rect x="271.31" y="1567.2" width="14.02" height="1.9" fill="#111"/><rect x="285.03" y="1567.2" width="15.08" height="1.9" fill="#111"/><rect x="299.81" y="1567.2" width="15.08" height="1.9" fill="#111"/></g>
<text x="938.3" y="1571.1" font-size="26" font-weight="bold" text-anchor="middle">-</text>
<text x="20.39" y="1613.4" font-size="24.2" textLength="60.69" lengthAdjust="spacingAndGlyphs" stroke="#000" stroke-width="0.35">OT12</text>
<text x="117.09" y="1613.4" font-size="24.2" textLength="12.34" lengthAdjust="spacingAndGlyphs" stroke="#000" stroke-width="0.35">9</text>
<text x="161.62" y="1613.4" font-size="24.2" textLength="107.96" lengthAdjust="spacingAndGlyphs" stroke="#000" stroke-width="0.35">131578375</text>
<text x="279.47" y="1613.4" font-size="24.2" textLength="108.00" lengthAdjust="spacingAndGlyphs" stroke="#000" stroke-width="0.35">131578396</text>
<text x="427.4" y="1619.6" font-size="36" font-weight="bold" text-anchor="middle">-</text>
<text x="484.69" y="1613.4" font-size="24.2" textLength="71.00" lengthAdjust="spacingAndGlyphs" stroke="#000" stroke-width="0.35">3' UTR</text>
<g transform="translate(580.94,0) scale(0.947,1)"><text y="1611.1" font-size="19.0" stroke="#000" stroke-width="0.3"><tspan x="0.00" y="1611.1">G</tspan><tspan x="14.78" y="1611.1">G</tspan><tspan x="29.56" y="1611.1">C</tspan><tspan x="43.28" y="1611.1">A</tspan><tspan x="55.95" y="1610.4" fill="#c4262e" stroke="#c4262e" stroke-width="2.0">_</tspan><tspan x="66.52" y="1611.1">G</tspan><tspan x="81.30" y="1611.1">A</tspan><tspan x="93.97" y="1611.1">A</tspan><tspan x="106.64" y="1611.1">G</tspan><tspan x="121.42" y="1611.1">C</tspan><tspan x="135.14" y="1611.1" fill="#c4262e" stroke="#c4262e">C</tspan><tspan x="148.86" y="1611.1">T</tspan><tspan x="160.47" y="1611.1">G</tspan><tspan x="175.25" y="1611.1">G</tspan><tspan x="190.03" y="1611.1">C</tspan><tspan x="203.75" y="1611.1">C</tspan><tspan x="217.47" y="1611.1">A</tspan><tspan x="230.14" y="1611.1">C</tspan><tspan x="243.86" y="1611.1" fill="#c4262e" stroke="#c4262e">A</tspan><tspan x="256.54" y="1611.1">G</tspan><tspan x="271.32" y="1611.1">N</tspan><tspan x="285.04" y="1611.1">G</tspan><tspan x="299.82" y="1611.1">G</tspan></text><rect x="271.32" y="1612.2" width="14.02" height="1.9" fill="#111"/><rect x="285.04" y="1612.2" width="15.08" height="1.9" fill="#111"/><rect x="299.82" y="1612.2" width="15.08" height="1.9" fill="#111"/></g>
<text x="896.65" y="1614.1" font-size="24.2" font-style="italic" textLength="83.46" lengthAdjust="spacingAndGlyphs" stroke="#000" stroke-width="0.35">RAPGEF1</text>
<text x="20.40" y="1658.5" font-size="24.2" textLength="60.53" lengthAdjust="spacingAndGlyphs" stroke="#000" stroke-width="0.35">OT13</text>
<text x="112.69" y="1658.5" font-size="24.2" textLength="22.61" lengthAdjust="spacingAndGlyphs" stroke="#000" stroke-width="0.35">14</text>
<text x="161.62" y="1658.5" font-size="24.2" textLength="108.08" lengthAdjust="spacingAndGlyphs" stroke="#000" stroke-width="0.35">104082149</text>
<text x="279.47" y="1658.5" font-size="24.2" textLength="107.89" lengthAdjust="spacingAndGlyphs" stroke="#000" stroke-width="0.35">104082170</text>
<text x="427.4" y="1664.7" font-size="36" font-weight="bold" text-anchor="middle">-</text>
<text x="470.00" y="1658.5" font-size="24.2" textLength="99.50" lengthAdjust="spacingAndGlyphs" stroke="#000" stroke-width="0.35">intergenic</text>
<g transform="translate(579.94,0) scale(0.947,1)"><text y="1656.2" font-size="19.0" stroke="#000" stroke-width="0.3"><tspan x="0.00" y="1656.2">G</tspan><tspan x="14.78" y="1656.2">G</tspan><tspan x="29.56" y="1656.2">C</tspan><tspan x="43.28" y="1656.2" fill="#c4262e" stroke="#c4262e">C</tspan><tspan x="57.00" y="1656.2">A</tspan><tspan x="69.67" y="1656.2">G</tspan><tspan x="84.45" y="1656.2">A</tspan><tspan x="97.12" y="1656.2">A</tspan><tspan x="109.80" y="1656.2">G</tspan><tspan x="124.58" y="1656.2">C</tspan><tspan x="138.30" y="1655.5" fill="#c4262e" stroke="#c4262e" stroke-width="2.0">_</tspan><tspan x="148.86" y="1656.2">T</tspan><tspan x="160.47" y="1656.2">G</tspan><tspan x="175.25" y="1656.2">G</tspan><tspan x="190.03" y="1656.2">C</tspan><tspan x="203.75" y="1656.2">C</tspan><tspan x="217.47" y="1656.2">A</tspan><tspan x="230.14" y="1656.2">C</tspan><tspan x="243.86" y="1656.2" fill="#c4262e" stroke="#c4262e">G</tspan><tspan x="258.64" y="1656.2">G</tspan><tspan x="273.42" y="1656.2">N</tspan><tspan x="287.14" y="1656.2">G</tspan><tspan x="301.92" y="1656.2">G</tspan></text><rect x="273.42" y="1657.3" width="14.02" height="1.9" fill="#111"/><rect x="287.14" y="1657.3" width="15.08" height="1.9" fill="#111"/><rect x="301.92" y="1657.3" width="15.08" height="1.9" fill="#111"/></g>
<text x="938.3" y="1661.2" font-size="26" font-weight="bold" text-anchor="middle">-</text>
<text x="20.40" y="1703.6" font-size="24.2" textLength="60.16" lengthAdjust="spacingAndGlyphs" stroke="#000" stroke-width="0.35">OT14</text>
<text x="117.32" y="1703.6" font-size="24.2" textLength="11.31" lengthAdjust="spacingAndGlyphs" stroke="#000" stroke-width="0.35">1</text>
<text x="166.42" y="1703.6" font-size="24.2" textLength="97.18" lengthAdjust="spacingAndGlyphs" stroke="#000" stroke-width="0.35">41291639</text>
<text x="284.28" y="1703.6" font-size="24.2" textLength="97.00" lengthAdjust="spacingAndGlyphs" stroke="#000" stroke-width="0.35">41291660</text>
<text x="427.4" y="1709.8" font-size="36" font-weight="bold" text-anchor="middle">-</text>
<text x="470.00" y="1703.6" font-size="24.2" textLength="99.50" lengthAdjust="spacingAndGlyphs" stroke="#000" stroke-width="0.35">intergenic</text>
<g transform="translate(580.93,0) scale(0.947,1)"><text y="1701.3" font-size="19.0" stroke="#000" stroke-width="0.3"><tspan x="0.00" y="1701.3">G</tspan><tspan x="14.78" y="1701.3">G</tspan><tspan x="29.56" y="1701.3">C</tspan><tspan x="43.28" y="1701.3">A</tspan><tspan x="55.95" y="1700.6" fill="#c4262e" stroke="#c4262e" stroke-width="2.0">_</tspan><tspan x="66.52" y="1701.3">G</tspan><tspan x="81.30" y="1701.3">A</tspan><tspan x="93.97" y="1701.3">A</tspan><tspan x="106.64" y="1701.3">G</tspan><tspan x="121.42" y="1701.3">C</tspan><tspan x="135.14" y="1701.3">A</tspan><tspan x="147.82" y="1701.3" fill="#c4262e" stroke="#c4262e">A</tspan><tspan x="160.49" y="1701.3">G</tspan><tspan x="175.27" y="1701.3">G</tspan><tspan x="190.05" y="1701.3">C</tspan><tspan x="203.77" y="1701.3">C</tspan><tspan x="217.49" y="1701.3">A</tspan><tspan x="230.16" y="1701.3">C</tspan><tspan x="243.88" y="1701.3" fill="#c4262e" stroke="#c4262e">A</tspan><tspan x="256.56" y="1701.3">G</tspan><tspan x="271.33" y="1701.3">N</tspan><tspan x="285.06" y="1701.3">G</tspan><tspan x="299.83" y="1701.3">G</tspan></text><rect x="271.33" y="1702.4" width="14.02" height="1.9" fill="#111"/><rect x="285.06" y="1702.4" width="15.08" height="1.9" fill="#111"/><rect x="299.83" y="1702.4" width="15.08" height="1.9" fill="#111"/></g>
<text x="938.3" y="1706.3" font-size="26" font-weight="bold" text-anchor="middle">-</text>
<text x="20.40" y="1748.6" font-size="24.2" textLength="60.48" lengthAdjust="spacingAndGlyphs" stroke="#000" stroke-width="0.35">OT15</text>
<text x="110.92" y="1748.6" font-size="24.2" textLength="24.41" lengthAdjust="spacingAndGlyphs" stroke="#000" stroke-width="0.35">20</text>
<text x="167.77" y="1748.6" font-size="24.2" textLength="93.39" lengthAdjust="spacingAndGlyphs" stroke="#000" stroke-width="0.35">19596791</text>
<text x="285.57" y="1748.6" font-size="24.2" textLength="95.93" lengthAdjust="spacingAndGlyphs" stroke="#000" stroke-width="0.35">19596812</text>
<text x="427.4" y="1754.8" font-size="36" font-weight="bold" text-anchor="middle">-</text>
<text x="488.85" y="1748.6" font-size="24.2" textLength="61.95" lengthAdjust="spacingAndGlyphs" stroke="#000" stroke-width="0.35">intron</text>
<g transform="translate(584.44,0) scale(0.947,1)"><text y="1746.3" font-size="19.0" stroke="#000" stroke-width="0.3"><tspan x="0.00" y="1746.3" fill="#c4262e" stroke="#c4262e">T</tspan><tspan x="11.61" y="1746.3">G</tspan><tspan x="26.38" y="1746.3">C</tspan><tspan x="40.11" y="1746.3">A</tspan><tspan x="52.78" y="1746.3">A</tspan><tspan x="65.45" y="1745.6" fill="#c4262e" stroke="#c4262e" stroke-width="2.0">_</tspan><tspan x="76.02" y="1746.3">A</tspan><tspan x="88.69" y="1746.3">A</tspan><tspan x="101.36" y="1746.3">G</tspan><tspan x="116.14" y="1746.3">C</tspan><tspan x="129.86" y="1746.3">A</tspan><tspan x="142.54" y="1746.3">T</tspan><tspan x="154.14" y="1746.3">G</tspan><tspan x="168.92" y="1746.3">G</tspan><tspan x="183.70" y="1746.3">C</tspan><tspan x="197.42" y="1746.3">C</tspan><tspan x="211.14" y="1746.3">A</tspan><tspan x="223.82" y="1746.3">C</tspan><tspan x="237.54" y="1746.3">C</tspan><tspan x="251.26" y="1746.3" fill="#c4262e" stroke="#c4262e">A</tspan><tspan x="263.93" y="1746.3">N</tspan><tspan x="277.65" y="1746.3">G</tspan><tspan x="292.43" y="1746.3">G</tspan></text><rect x="263.93" y="1747.4" width="14.02" height="1.9" fill="#111"/><rect x="277.65" y="1747.4" width="15.08" height="1.9" fill="#111"/><rect x="292.43" y="1747.4" width="15.08" height="1.9" fill="#111"/></g>
<text x="895.95" y="1749.3" font-size="24.2" font-style="italic" textLength="83.52" lengthAdjust="spacingAndGlyphs" stroke="#000" stroke-width="0.35">SLC24A3</text>
<text x="20.40" y="1793.7" font-size="24.2" textLength="60.53" lengthAdjust="spacingAndGlyphs" stroke="#000" stroke-width="0.35">OT16</text>
<text x="116.99" y="1793.7" font-size="24.2" textLength="12.51" lengthAdjust="spacingAndGlyphs" stroke="#000" stroke-width="0.35">2</text>
<text x="161.62" y="1793.7" font-size="24.2" textLength="107.99" lengthAdjust="spacingAndGlyphs" stroke="#000" stroke-width="0.35">120361718</text>
<text x="279.47" y="1793.7" font-size="24.2" textLength="108.08" lengthAdjust="spacingAndGlyphs" stroke="#000" stroke-width="0.35">120361739</text>
<text x="427.4" y="1799.9" font-size="36" font-weight="bold" text-anchor="middle">-</text>
<text x="470.00" y="1793.7" font-size="24.2" textLength="99.50" lengthAdjust="spacingAndGlyphs" stroke="#000" stroke-width="0.35">intergenic</text>
<g transform="translate(581.44,0) scale(0.947,1)"><text y="1791.4" font-size="19.0" stroke="#000" stroke-width="0.3"><tspan x="0.00" y="1791.4">G</tspan><tspan x="14.78" y="1791.4">G</tspan><tspan x="29.56" y="1790.7" fill="#c4262e" stroke="#c4262e" stroke-width="2.0">_</tspan><tspan x="40.12" y="1791.4">A</tspan><tspan x="52.80" y="1791.4">A</tspan><tspan x="65.47" y="1791.4">G</tspan><tspan x="80.25" y="1791.4" fill="#c4262e" stroke="#c4262e">C</tspan><tspan x="93.97" y="1791.4">A</tspan><tspan x="106.64" y="1791.4">G</tspan><tspan x="121.42" y="1791.4">C</tspan><tspan x="135.14" y="1791.4">A</tspan><tspan x="147.82" y="1791.4">T</tspan><tspan x="159.42" y="1791.4">G</tspan><tspan x="174.20" y="1791.4">G</tspan><tspan x="188.98" y="1791.4">C</tspan><tspan x="202.70" y="1791.4">C</tspan><tspan x="216.42" y="1791.4">A</tspan><tspan x="229.09" y="1791.4">C</tspan><tspan x="242.82" y="1791.4">C</tspan><tspan x="256.54" y="1791.4" fill="#c4262e" stroke="#c4262e">C</tspan><tspan x="270.26" y="1791.4">N</tspan><tspan x="283.98" y="1791.4">G</tspan><tspan x="298.76" y="1791.4">G</tspan></text><rect x="270.26" y="1792.5" width="14.02" height="1.9" fill="#111"/><rect x="283.98" y="1792.5" width="15.08" height="1.9" fill="#111"/><rect x="298.76" y="1792.5" width="15.08" height="1.9" fill="#111"/></g>
<text x="938.3" y="1796.4" font-size="26" font-weight="bold" text-anchor="middle">-</text>
<text x="20.39" y="1838.8" font-size="24.2" textLength="60.69" lengthAdjust="spacingAndGlyphs" stroke="#000" stroke-width="0.35">OT17</text>
<text x="117.18" y="1838.8" font-size="24.2" textLength="12.15" lengthAdjust="spacingAndGlyphs" stroke="#000" stroke-width="0.35">8</text>
<text x="161.62" y="1838.8" font-size="24.2" textLength="108.08" lengthAdjust="spacingAndGlyphs" stroke="#000" stroke-width="0.35">137651409</text>
<text x="279.47" y="1838.8" font-size="24.2" textLength="107.89" lengthAdjust="spacingAndGlyphs" stroke="#000" stroke-width="0.35">137651430</text>
<text x="427.4" y="1842.3" font-size="35.5" text-anchor="middle" stroke="#000" stroke-width="0.45">+</text>
<text x="470.00" y="1838.8" font-size="24.2" textLength="99.50" lengthAdjust="spacingAndGlyphs" stroke="#000" stroke-width="0.35">intergenic</text>
<g transform="translate(583.94,0) scale(0.947,1)"><text y="1836.5" font-size="19.0" stroke="#000" stroke-width="0.3"><tspan x="0.00" y="1836.5">G</tspan><tspan x="14.78" y="1836.5" fill="#c4262e" stroke="#c4262e">T</tspan><tspan x="26.38" y="1836.5">C</tspan><tspan x="40.11" y="1836.5">A</tspan><tspan x="52.78" y="1836.5">A</tspan><tspan x="65.45" y="1836.5">G</tspan><tspan x="80.23" y="1836.5">A</tspan><tspan x="92.90" y="1836.5">A</tspan><tspan x="105.58" y="1836.5">G</tspan><tspan x="120.35" y="1836.5">C</tspan><tspan x="134.08" y="1836.5">A</tspan><tspan x="146.75" y="1836.5">T</tspan><tspan x="158.35" y="1836.5">G</tspan><tspan x="173.13" y="1836.5">G</tspan><tspan x="187.91" y="1836.5">C</tspan><tspan x="201.63" y="1836.5" fill="#c4262e" stroke="#c4262e">T</tspan><tspan x="213.24" y="1836.5">A</tspan><tspan x="225.91" y="1835.8" fill="#c4262e" stroke="#c4262e" stroke-width="2.0">_</tspan><tspan x="236.48" y="1836.5">C</tspan><tspan x="250.20" y="1836.5">G</tspan><tspan x="264.98" y="1836.5">N</tspan><tspan x="278.70" y="1836.5">G</tspan><tspan x="293.48" y="1836.5">G</tspan></text><rect x="264.98" y="1837.6" width="14.02" height="1.9" fill="#111"/><rect x="278.70" y="1837.6" width="15.08" height="1.9" fill="#111"/><rect x="293.48" y="1837.6" width="15.08" height="1.9" fill="#111"/></g>
<text x="938.3" y="1841.5" font-size="26" font-weight="bold" text-anchor="middle">-</text>
<text x="20.40" y="1883.9" font-size="24.2" textLength="60.51" lengthAdjust="spacingAndGlyphs" stroke="#000" stroke-width="0.35">OT18</text>
<text x="117.32" y="1883.9" font-size="24.2" textLength="11.31" lengthAdjust="spacingAndGlyphs" stroke="#000" stroke-width="0.35">1</text>
<text x="161.63" y="1883.9" font-size="24.2" textLength="107.68" lengthAdjust="spacingAndGlyphs" stroke="#000" stroke-width="0.35">110306904</text>
<text x="279.47" y="1883.9" font-size="24.2" textLength="107.96" lengthAdjust="spacingAndGlyphs" stroke="#000" stroke-width="0.35">110306925</text>
<text x="427.4" y="1887.4" font-size="35.5" text-anchor="middle" stroke="#000" stroke-width="0.45">+</text>
<text x="488.85" y="1883.9" font-size="24.2" textLength="61.95" lengthAdjust="spacingAndGlyphs" stroke="#000" stroke-width="0.35">intron</text>
<g transform="translate(582.94,0) scale(0.947,1)"><text y="1881.6" font-size="19.0" stroke="#000" stroke-width="0.3"><tspan x="0.00" y="1881.6">G</tspan><tspan x="14.78" y="1881.6">G</tspan><tspan x="29.56" y="1881.6">C</tspan><tspan x="43.28" y="1881.6">A</tspan><tspan x="55.95" y="1881.6">A</tspan><tspan x="68.62" y="1880.9" fill="#c4262e" stroke="#c4262e" stroke-width="2.0">_</tspan><tspan x="79.19" y="1881.6">A</tspan><tspan x="91.86" y="1881.6">A</tspan><tspan x="104.54" y="1881.6" fill="#c4262e" stroke="#c4262e">C</tspan><tspan x="118.26" y="1881.6">C</tspan><tspan x="131.98" y="1881.6">A</tspan><tspan x="144.65" y="1881.6">T</tspan><tspan x="156.26" y="1881.6">G</tspan><tspan x="171.04" y="1881.6">G</tspan><tspan x="185.82" y="1881.6">C</tspan><tspan x="199.54" y="1881.6">C</tspan><tspan x="213.26" y="1881.6">A</tspan><tspan x="225.93" y="1881.6">C</tspan><tspan x="239.65" y="1881.6">C</tspan><tspan x="253.37" y="1881.6" fill="#c4262e" stroke="#c4262e">C</tspan><tspan x="267.09" y="1881.6">N</tspan><tspan x="280.82" y="1881.6">G</tspan><tspan x="295.59" y="1881.6">G</tspan></text><rect x="267.09" y="1882.7" width="14.02" height="1.9" fill="#111"/><rect x="280.82" y="1882.7" width="15.08" height="1.9" fill="#111"/><rect x="295.59" y="1882.7" width="15.08" height="1.9" fill="#111"/></g>
<text x="891.48" y="1884.6" font-size="20.5" font-style="italic" textLength="93.74" lengthAdjust="spacingAndGlyphs" stroke="#000" stroke-width="0.35">RBM15-AS1</text>
<text x="20.39" y="1928.9" font-size="24.2" textLength="60.61" lengthAdjust="spacingAndGlyphs" stroke="#000" stroke-width="0.35">OT19</text>
<text x="112.84" y="1928.9" font-size="24.2" textLength="22.61" lengthAdjust="spacingAndGlyphs" stroke="#000" stroke-width="0.35">16</text>
<text x="165.98" y="1928.9" font-size="24.2" textLength="97.24" lengthAdjust="spacingAndGlyphs" stroke="#000" stroke-width="0.35">85546784</text>
<text x="283.82" y="1928.9" font-size="24.2" textLength="97.52" lengthAdjust="spacingAndGlyphs" stroke="#000" stroke-width="0.35">85546805</text>
<text x="427.4" y="1932.4" font-size="35.5" text-anchor="middle" stroke="#000" stroke-width="0.45">+</text>
<text x="470.00" y="1928.9" font-size="24.2" textLength="99.50" lengthAdjust="spacingAndGlyphs" stroke="#000" stroke-width="0.35">intergenic</text>
<g transform="translate(582.94,0) scale(0.947,1)"><text y="1926.6" font-size="19.0" stroke="#000" stroke-width="0.3"><tspan x="0.00" y="1926.6">G</tspan><tspan x="14.78" y="1926.6">G</tspan><tspan x="29.56" y="1926.6" fill="#c4262e" stroke="#c4262e">T</tspan><tspan x="41.16" y="1926.6">A</tspan><tspan x="53.84" y="1926.6">A</tspan><tspan x="66.51" y="1926.6">G</tspan><tspan x="81.29" y="1926.6">A</tspan><tspan x="93.96" y="1926.6">A</tspan><tspan x="106.63" y="1926.6">G</tspan><tspan x="121.41" y="1926.6">C</tspan><tspan x="135.13" y="1925.9" fill="#c4262e" stroke="#c4262e" stroke-width="2.0">_</tspan><tspan x="145.70" y="1926.6">T</tspan><tspan x="157.31" y="1926.6">G</tspan><tspan x="172.09" y="1926.6">G</tspan><tspan x="186.86" y="1926.6">C</tspan><tspan x="200.59" y="1926.6">C</tspan><tspan x="214.31" y="1926.6">A</tspan><tspan x="226.98" y="1926.6">C</tspan><tspan x="240.70" y="1926.6">C</tspan><tspan x="254.42" y="1926.6" fill="#c4262e" stroke="#c4262e">A</tspan><tspan x="267.09" y="1926.6">N</tspan><tspan x="280.82" y="1926.6">G</tspan><tspan x="295.59" y="1926.6">G</tspan></text><rect x="267.09" y="1927.7" width="14.02" height="1.9" fill="#111"/><rect x="280.82" y="1927.7" width="15.08" height="1.9" fill="#111"/><rect x="295.59" y="1927.7" width="15.08" height="1.9" fill="#111"/></g>
<text x="938.3" y="1931.6" font-size="26" font-weight="bold" text-anchor="middle">-</text>
<text x="20.40" y="1974.0" font-size="24.2" textLength="60.40" lengthAdjust="spacingAndGlyphs" stroke="#000" stroke-width="0.35">OT20</text>
<text x="112.69" y="1974.0" font-size="24.2" textLength="22.61" lengthAdjust="spacingAndGlyphs" stroke="#000" stroke-width="0.35">14</text>
<text x="165.97" y="1974.0" font-size="24.2" textLength="97.64" lengthAdjust="spacingAndGlyphs" stroke="#000" stroke-width="0.35">89983459</text>
<text x="283.82" y="1974.0" font-size="24.2" textLength="97.46" lengthAdjust="spacingAndGlyphs" stroke="#000" stroke-width="0.35">89983480</text>
<text x="427.4" y="1980.2" font-size="36" font-weight="bold" text-anchor="middle">-</text>
<text x="488.85" y="1974.0" font-size="24.2" textLength="61.95" lengthAdjust="spacingAndGlyphs" stroke="#000" stroke-width="0.35">intron</text>
<g transform="translate(581.94,0) scale(0.947,1)"><text y="1971.7" font-size="19.0" stroke="#000" stroke-width="0.3"><tspan x="0.00" y="1971.7">G</tspan><tspan x="14.78" y="1971.7">G</tspan><tspan x="29.56" y="1971.7">C</tspan><tspan x="43.28" y="1971.7">A</tspan><tspan x="55.95" y="1971.7">A</tspan><tspan x="68.62" y="1971.7">G</tspan><tspan x="83.40" y="1971.7">A</tspan><tspan x="96.08" y="1971.7" fill="#c4262e" stroke="#c4262e">T</tspan><tspan x="107.68" y="1971.7">G</tspan><tspan x="122.46" y="1971.7">C</tspan><tspan x="136.18" y="1971.7">A</tspan><tspan x="148.85" y="1971.0" fill="#c4262e" stroke="#c4262e" stroke-width="2.0">_</tspan><tspan x="159.42" y="1971.7">G</tspan><tspan x="174.20" y="1971.7">G</tspan><tspan x="188.98" y="1971.7">C</tspan><tspan x="202.70" y="1971.7">C</tspan><tspan x="216.42" y="1971.7">A</tspan><tspan x="229.09" y="1971.7">C</tspan><tspan x="242.82" y="1971.7">C</tspan><tspan x="256.54" y="1971.7" fill="#c4262e" stroke="#c4262e">A</tspan><tspan x="269.21" y="1971.7">N</tspan><tspan x="282.93" y="1971.7">G</tspan><tspan x="297.71" y="1971.7">G</tspan></text><rect x="269.21" y="1972.8" width="14.02" height="1.9" fill="#111"/><rect x="282.93" y="1972.8" width="15.08" height="1.9" fill="#111"/><rect x="297.71" y="1972.8" width="15.08" height="1.9" fill="#111"/></g>
<text x="912.25" y="1974.7" font-size="24.2" font-style="italic" textLength="51.19" lengthAdjust="spacingAndGlyphs" stroke="#000" stroke-width="0.35">TDP1</text>
<rect x="1048.3" y="980.20" width="995.4000000000001" height="2.1" fill="#1a1a1a"/>
<rect x="1048.3" y="1040.40" width="995.4000000000001" height="2.1" fill="#1a1a1a"/>
<rect x="1048.3" y="1085.50" width="995.4000000000001" height="2.1" fill="#1a1a1a"/>
<rect x="1048.3" y="1130.60" width="995.4000000000001" height="2.1" fill="#1a1a1a"/>
<rect x="1048.3" y="1175.70" width="995.4000000000001" height="2.1" fill="#1a1a1a"/>
<rect x="1048.3" y="1220.80" width="995.4000000000001" height="2.1" fill="#1a1a1a"/>
<rect x="1048.3" y="1265.90" width="995.4000000000001" height="2.1" fill="#1a1a1a"/>
<rect x="1048.3" y="1311.00" width="995.4000000000001" height="2.1" fill="#1a1a1a"/>
<rect x="1048.3" y="1356.10" width="995.4000000000001" height="2.1" fill="#1a1a1a"/>
<rect x="1048.3" y="1401.20" width="995.4000000000001" height="2.1" fill="#1a1a1a"/>
<rect x="1048.3" y="1446.30" width="995.4000000000001" height="2.1" fill="#1a1a1a"/>
<rect x="1048.3" y="1491.40" width="995.4000000000001" height="2.1" fill="#1a1a1a"/>
<rect x="1048.3" y="1536.50" width="995.4000000000001" height="2.1" fill="#1a1a1a"/>
<rect x="1048.3" y="1581.60" width="995.4000000000001" height="2.1" fill="#1a1a1a"/>
<rect x="1048.3" y="1626.70" width="995.4000000000001" height="2.1" fill="#1a1a1a"/>
<rect x="1048.3" y="1671.80" width="995.4000000000001" height="2.1" fill="#1a1a1a"/>
<rect x="1048.3" y="1716.90" width="995.4000000000001" height="2.1" fill="#1a1a1a"/>
<rect x="1048.3" y="1762.00" width="995.4000000000001" height="2.1" fill="#1a1a1a"/>
<rect x="1048.3" y="1807.10" width="995.4000000000001" height="2.1" fill="#1a1a1a"/>
<rect x="1048.3" y="1852.20" width="995.4000000000001" height="2.1" fill="#1a1a1a"/>
<rect x="1048.3" y="1897.30" width="995.4000000000001" height="2.1" fill="#1a1a1a"/>
<rect x="1048.3" y="1942.40" width="995.4000000000001" height="2.1" fill="#1a1a1a"/>
<rect x="1048.30" y="980.2" width="2.1" height="964.20" fill="#1a1a1a"/>
<rect x="1129.00" y="980.2" width="2.1" height="964.20" fill="#1a1a1a"/>
<rect x="1192.00" y="980.2" width="2.1" height="964.20" fill="#1a1a1a"/>
<rect x="1310.50" y="980.2" width="2.1" height="964.20" fill="#1a1a1a"/>
<rect x="1429.20" y="980.2" width="2.1" height="964.20" fill="#1a1a1a"/>
<rect x="1501.00" y="980.2" width="2.1" height="964.20" fill="#1a1a1a"/>
<rect x="1809.30" y="980.2" width="2.1" height="964.20" fill="#1a1a1a"/>
<rect x="1922.40" y="980.2" width="2.1" height="964.20" fill="#1a1a1a"/>
<rect x="2041.70" y="980.2" width="2.1" height="964.20" fill="#1a1a1a"/>
<text x="1138.94" y="1020.5" font-size="24" font-weight="bold" textLength="44.45" lengthAdjust="spacingAndGlyphs">Chr</text>
<text x="1222.86" y="1020.5" font-size="24" font-weight="bold" textLength="58.35" lengthAdjust="spacingAndGlyphs">Start</text>
<text x="1344.05" y="1020.5" font-size="24" font-weight="bold" textLength="53.89" lengthAdjust="spacingAndGlyphs">Stop</text>
<text x="1434.42" y="1017.9" font-size="20.5" font-weight="bold" textLength="64.12" lengthAdjust="spacingAndGlyphs">Strand</text>
<text x="1601.08" y="1020.5" font-size="24" font-weight="bold" textLength="110.27" lengthAdjust="spacingAndGlyphs">Sequence</text>
<text x="1821.54" y="1020.5" font-size="24" font-weight="bold" textLength="89.81" lengthAdjust="spacingAndGlyphs">Feature</text>
<text x="1952.40" y="1020.5" font-size="24" font-weight="bold" textLength="61.14" lengthAdjust="spacingAndGlyphs">Gene</text>
<text x="1059.39" y="1072.9" font-size="24.2" textLength="58.11" lengthAdjust="spacingAndGlyphs" stroke="#000" stroke-width="0.35">OT21</text>
<text x="1152.61" y="1072.9" font-size="24.2" textLength="17.75" lengthAdjust="spacingAndGlyphs" stroke="#000" stroke-width="0.35">X</text>
<text x="1203.59" y="1072.9" font-size="24.2" textLength="97.52" lengthAdjust="spacingAndGlyphs" stroke="#000" stroke-width="0.35">35244229</text>
<text x="1322.21" y="1072.9" font-size="24.2" textLength="95.07" lengthAdjust="spacingAndGlyphs" stroke="#000" stroke-width="0.35">35244251</text>
<text x="1466.1" y="1079.1" font-size="36" font-weight="bold" text-anchor="middle">-</text>
<g transform="translate(1506.19,0) scale(0.947,1)"><text y="1070.6" font-size="19.0" stroke="#000" stroke-width="0.3"><tspan x="0.00" y="1070.6">G</tspan><tspan x="14.78" y="1070.6">G</tspan><tspan x="29.56" y="1070.6">C</tspan><tspan x="43.28" y="1070.6">A</tspan><tspan x="55.95" y="1070.6">A</tspan><tspan x="68.62" y="1070.6">G</tspan><tspan x="83.40" y="1070.6">A</tspan><tspan x="96.08" y="1070.6">A</tspan><tspan x="108.75" y="1070.6">G</tspan><tspan x="123.53" y="1070.6">C</tspan><tspan x="137.25" y="1070.6" fill="#c4262e" stroke="#c4262e">C</tspan><tspan x="150.97" y="1070.6">T</tspan><tspan x="162.58" y="1070.6">G</tspan><tspan x="177.35" y="1070.6">G</tspan><tspan x="192.13" y="1070.6" fill="#c4262e" stroke="#c4262e">G</tspan><tspan x="206.91" y="1070.6">C</tspan><tspan x="220.63" y="1070.6">A</tspan><tspan x="233.31" y="1070.6">C</tspan><tspan x="247.03" y="1070.6">C</tspan><tspan x="260.75" y="1070.6" fill="#c4262e" stroke="#c4262e">A</tspan><tspan x="273.42" y="1070.6">N</tspan><tspan x="287.14" y="1070.6">G</tspan><tspan x="301.92" y="1070.6">G</tspan></text><rect x="273.42" y="1071.7" width="14.02" height="1.9" fill="#111"/><rect x="287.14" y="1071.7" width="15.08" height="1.9" fill="#111"/><rect x="301.92" y="1071.7" width="15.08" height="1.9" fill="#111"/></g>
<text x="1817.00" y="1072.9" font-size="24.2" textLength="99.50" lengthAdjust="spacingAndGlyphs" stroke="#000" stroke-width="0.35">intergenic</text>
<text x="1982.5" y="1075.6" font-size="26" font-weight="bold" text-anchor="middle">-</text>
<text x="1059.34" y="1118.0" font-size="24.2" textLength="60.69" lengthAdjust="spacingAndGlyphs" stroke="#000" stroke-width="0.35">OT22</text>
<text x="1151.15" y="1118.0" font-size="24.2" textLength="22.61" lengthAdjust="spacingAndGlyphs" stroke="#000" stroke-width="0.35">17</text>
<text x="1205.27" y="1118.0" font-size="24.2" textLength="93.39" lengthAdjust="spacingAndGlyphs" stroke="#000" stroke-width="0.35">17799461</text>
<text x="1323.82" y="1118.0" font-size="24.2" textLength="95.93" lengthAdjust="spacingAndGlyphs" stroke="#000" stroke-width="0.35">17799482</text>
<text x="1466.1" y="1124.2" font-size="36" font-weight="bold" text-anchor="middle">-</text>
<g transform="translate(1506.19,0) scale(0.947,1)"><text y="1115.7" font-size="19.0" stroke="#000" stroke-width="0.3"><tspan x="0.00" y="1115.7">G</tspan><tspan x="14.78" y="1115.7">G</tspan><tspan x="29.56" y="1115.7" fill="#c4262e" stroke="#c4262e">G</tspan><tspan x="44.34" y="1115.7" fill="#c4262e" stroke="#c4262e">C</tspan><tspan x="58.06" y="1115.7">A</tspan><tspan x="70.73" y="1115.7">G</tspan><tspan x="85.51" y="1115.7">A</tspan><tspan x="98.18" y="1115.7">A</tspan><tspan x="110.85" y="1115.7">G</tspan><tspan x="125.63" y="1115.7">C</tspan><tspan x="139.35" y="1115.7">A</tspan><tspan x="152.03" y="1115.7">T</tspan><tspan x="163.63" y="1115.7">G</tspan><tspan x="178.41" y="1115.7">G</tspan><tspan x="193.19" y="1115.7">C</tspan><tspan x="206.91" y="1115.7">C</tspan><tspan x="220.63" y="1115.0" fill="#c4262e" stroke="#c4262e" stroke-width="2.0">_</tspan><tspan x="231.20" y="1115.7">C</tspan><tspan x="244.92" y="1115.7">C</tspan><tspan x="258.64" y="1115.7">G</tspan><tspan x="273.42" y="1115.7">N</tspan><tspan x="287.14" y="1115.7">G</tspan><tspan x="301.92" y="1115.7">G</tspan></text><rect x="273.42" y="1116.8" width="14.02" height="1.9" fill="#111"/><rect x="287.14" y="1116.8" width="15.08" height="1.9" fill="#111"/><rect x="301.92" y="1116.8" width="15.08" height="1.9" fill="#111"/></g>
<text x="1835.85" y="1118.0" font-size="24.2" textLength="61.95" lengthAdjust="spacingAndGlyphs" stroke="#000" stroke-width="0.35">intron</text>
<text x="1961.67" y="1118.7" font-size="24.2" font-style="italic" textLength="41.76" lengthAdjust="spacingAndGlyphs" stroke="#000" stroke-width="0.35">RAI1</text>
<text x="1059.35" y="1163.1" font-size="24.2" textLength="60.53" lengthAdjust="spacingAndGlyphs" stroke="#000" stroke-width="0.35">OT23</text>
<text x="1155.55" y="1163.1" font-size="24.2" textLength="12.02" lengthAdjust="spacingAndGlyphs" stroke="#000" stroke-width="0.35">3</text>
<text x="1199.16" y="1163.1" font-size="24.2" textLength="105.61" lengthAdjust="spacingAndGlyphs" stroke="#000" stroke-width="0.35">152261101</text>
<text x="1317.72" y="1163.1" font-size="24.2" textLength="108.14" lengthAdjust="spacingAndGlyphs" stroke="#000" stroke-width="0.35">152261122</text>
<text x="1466.1" y="1166.6" font-size="35.5" text-anchor="middle" stroke="#000" stroke-width="0.45">+</text>
<g transform="translate(1509.19,0) scale(0.947,1)"><text y="1160.8" font-size="19.0" stroke="#000" stroke-width="0.3"><tspan x="0.00" y="1160.8">G</tspan><tspan x="14.78" y="1160.8">G</tspan><tspan x="29.56" y="1160.8">C</tspan><tspan x="43.28" y="1160.8">A</tspan><tspan x="55.95" y="1160.8">A</tspan><tspan x="68.62" y="1160.8">G</tspan><tspan x="83.40" y="1160.8">A</tspan><tspan x="96.08" y="1160.8">A</tspan><tspan x="108.75" y="1160.8">G</tspan><tspan x="123.53" y="1160.8">C</tspan><tspan x="137.25" y="1160.1" fill="#c4262e" stroke="#c4262e" stroke-width="2.0">_</tspan><tspan x="147.82" y="1160.8">T</tspan><tspan x="159.42" y="1160.8">G</tspan><tspan x="174.20" y="1160.8">G</tspan><tspan x="188.98" y="1160.8">C</tspan><tspan x="202.70" y="1160.8" fill="#c4262e" stroke="#c4262e">A</tspan><tspan x="215.37" y="1160.8">A</tspan><tspan x="228.05" y="1160.8">C</tspan><tspan x="241.77" y="1160.8">C</tspan><tspan x="255.49" y="1160.8" fill="#c4262e" stroke="#c4262e">T</tspan><tspan x="267.09" y="1160.8">N</tspan><tspan x="280.82" y="1160.8">G</tspan><tspan x="295.59" y="1160.8">G</tspan></text><rect x="267.09" y="1161.9" width="14.02" height="1.9" fill="#111"/><rect x="280.82" y="1161.9" width="15.08" height="1.9" fill="#111"/><rect x="295.59" y="1161.9" width="15.08" height="1.9" fill="#111"/></g>
<text x="1817.00" y="1163.1" font-size="24.2" textLength="99.50" lengthAdjust="spacingAndGlyphs" stroke="#000" stroke-width="0.35">intergenic</text>
<text x="1982.5" y="1165.8" font-size="26" font-weight="bold" text-anchor="middle">-</text>
<text x="1059.35" y="1208.2" font-size="24.2" textLength="60.16" lengthAdjust="spacingAndGlyphs" stroke="#000" stroke-width="0.35">OT24</text>
<text x="1155.43" y="1208.2" font-size="24.2" textLength="12.15" lengthAdjust="spacingAndGlyphs" stroke="#000" stroke-width="0.35">8</text>
<text x="1199.16" y="1208.2" font-size="24.2" textLength="105.61" lengthAdjust="spacingAndGlyphs" stroke="#000" stroke-width="0.35">114006481</text>
<text x="1317.72" y="1208.2" font-size="24.2" textLength="108.14" lengthAdjust="spacingAndGlyphs" stroke="#000" stroke-width="0.35">114006502</text>
<text x="1466.1" y="1211.7" font-size="35.5" text-anchor="middle" stroke="#000" stroke-width="0.45">+</text>
<g transform="translate(1507.19,0) scale(0.947,1)"><text y="1205.9" font-size="19.0" stroke="#000" stroke-width="0.3"><tspan x="0.00" y="1205.9">G</tspan><tspan x="14.78" y="1205.9">G</tspan><tspan x="29.56" y="1205.9">C</tspan><tspan x="43.28" y="1205.9">A</tspan><tspan x="55.95" y="1205.9" fill="#c4262e" stroke="#c4262e">G</tspan><tspan x="70.73" y="1205.9">G</tspan><tspan x="85.51" y="1205.9">A</tspan><tspan x="98.18" y="1205.9">A</tspan><tspan x="110.85" y="1205.9">G</tspan><tspan x="125.63" y="1205.9">C</tspan><tspan x="139.35" y="1205.9">A</tspan><tspan x="152.03" y="1205.9">T</tspan><tspan x="163.63" y="1205.9">G</tspan><tspan x="178.41" y="1205.9">G</tspan><tspan x="193.19" y="1205.9">C</tspan><tspan x="206.91" y="1205.9">C</tspan><tspan x="220.63" y="1205.2" fill="#c4262e" stroke="#c4262e" stroke-width="2.0">_</tspan><tspan x="231.20" y="1205.9">C</tspan><tspan x="244.92" y="1205.9">C</tspan><tspan x="258.64" y="1205.9" fill="#c4262e" stroke="#c4262e">A</tspan><tspan x="271.32" y="1205.9">N</tspan><tspan x="285.04" y="1205.9">G</tspan><tspan x="299.82" y="1205.9">G</tspan></text><rect x="271.32" y="1207.0" width="14.02" height="1.9" fill="#111"/><rect x="285.04" y="1207.0" width="15.08" height="1.9" fill="#111"/><rect x="299.82" y="1207.0" width="15.08" height="1.9" fill="#111"/></g>
<text x="1817.00" y="1208.2" font-size="24.2" textLength="99.50" lengthAdjust="spacingAndGlyphs" stroke="#000" stroke-width="0.35">intergenic</text>
<text x="1982.5" y="1210.9" font-size="26" font-weight="bold" text-anchor="middle">-</text>
<text x="1059.35" y="1253.3" font-size="24.2" textLength="60.48" lengthAdjust="spacingAndGlyphs" stroke="#000" stroke-width="0.35">OT25</text>
<text x="1151.15" y="1253.3" font-size="24.2" textLength="22.61" lengthAdjust="spacingAndGlyphs" stroke="#000" stroke-width="0.35">17</text>
<text x="1203.93" y="1253.3" font-size="24.2" textLength="97.11" lengthAdjust="spacingAndGlyphs" stroke="#000" stroke-width="0.35">43862773</text>
<text x="1322.53" y="1253.3" font-size="24.2" textLength="97.11" lengthAdjust="spacingAndGlyphs" stroke="#000" stroke-width="0.35">43862796</text>
<text x="1466.1" y="1259.5" font-size="36" font-weight="bold" text-anchor="middle">-</text>
<g transform="translate(1505.19,0) scale(0.947,1)"><text y="1251.0" font-size="19.0" stroke="#000" stroke-width="0.3"><tspan x="0.00" y="1251.0">G</tspan><tspan x="14.78" y="1251.0">C</tspan><tspan x="28.50" y="1251.0">A</tspan><tspan x="41.17" y="1251.0">A</tspan><tspan x="53.85" y="1251.0">G</tspan><tspan x="68.62" y="1251.0">A</tspan><tspan x="81.30" y="1251.0">A</tspan><tspan x="93.97" y="1251.0" fill="#c4262e" stroke="#c4262e">G</tspan><tspan x="108.75" y="1251.0">G</tspan><tspan x="123.53" y="1251.0">C</tspan><tspan x="137.25" y="1251.0">A</tspan><tspan x="149.92" y="1251.0">T</tspan><tspan x="161.53" y="1251.0">G</tspan><tspan x="176.31" y="1251.0">G</tspan><tspan x="191.09" y="1251.0">C</tspan><tspan x="204.81" y="1251.0">C</tspan><tspan x="218.53" y="1251.0">A</tspan><tspan x="231.20" y="1251.0" fill="#c4262e" stroke="#c4262e">G</tspan><tspan x="245.98" y="1251.0" fill="#c4262e" stroke="#c4262e">G</tspan><tspan x="260.76" y="1251.0">G</tspan><tspan x="275.54" y="1251.0">N</tspan><tspan x="289.26" y="1251.0">G</tspan><tspan x="304.04" y="1251.0">G</tspan></text><rect x="275.54" y="1252.1" width="14.02" height="1.9" fill="#111"/><rect x="289.26" y="1252.1" width="15.08" height="1.9" fill="#111"/><rect x="304.04" y="1252.1" width="15.08" height="1.9" fill="#111"/></g>
<text x="1831.69" y="1253.3" font-size="24.2" textLength="71.00" lengthAdjust="spacingAndGlyphs" stroke="#000" stroke-width="0.35">3' UTR</text>
<text x="1935.34" y="1254.0" font-size="24.2" font-style="italic" textLength="93.16" lengthAdjust="spacingAndGlyphs" stroke="#000" stroke-width="0.35">CD300LG</text>
<text x="1059.35" y="1298.4" font-size="24.2" textLength="60.53" lengthAdjust="spacingAndGlyphs" stroke="#000" stroke-width="0.35">OT26</text>
<text x="1155.24" y="1298.4" font-size="24.2" textLength="12.51" lengthAdjust="spacingAndGlyphs" stroke="#000" stroke-width="0.35">2</text>
<text x="1199.16" y="1298.4" font-size="24.2" textLength="105.61" lengthAdjust="spacingAndGlyphs" stroke="#000" stroke-width="0.35">132403081</text>
<text x="1317.72" y="1298.4" font-size="24.2" textLength="108.00" lengthAdjust="spacingAndGlyphs" stroke="#000" stroke-width="0.35">132403103</text>
<text x="1466.1" y="1304.6" font-size="36" font-weight="bold" text-anchor="middle">-</text>
<g transform="translate(1508.20,0) scale(0.947,1)"><text y="1296.1" font-size="19.0" stroke="#000" stroke-width="0.3"><tspan x="0.00" y="1296.1">G</tspan><tspan x="14.78" y="1296.1">G</tspan><tspan x="29.56" y="1296.1">C</tspan><tspan x="43.28" y="1296.1">A</tspan><tspan x="55.95" y="1296.1">A</tspan><tspan x="68.62" y="1296.1">G</tspan><tspan x="83.40" y="1296.1">A</tspan><tspan x="96.08" y="1296.1">A</tspan><tspan x="108.75" y="1296.1">G</tspan><tspan x="123.53" y="1296.1">C</tspan><tspan x="137.25" y="1296.1">A</tspan><tspan x="149.92" y="1296.1">T</tspan><tspan x="161.53" y="1296.1">G</tspan><tspan x="176.31" y="1296.1" fill="#c4262e" stroke="#c4262e">T</tspan><tspan x="187.91" y="1296.1">C</tspan><tspan x="201.63" y="1296.1">C</tspan><tspan x="215.35" y="1296.1">A</tspan><tspan x="228.03" y="1296.1" fill="#c4262e" stroke="#c4262e">G</tspan><tspan x="242.81" y="1296.1" fill="#c4262e" stroke="#c4262e">T</tspan><tspan x="254.41" y="1296.1">G</tspan><tspan x="269.19" y="1296.1">N</tspan><tspan x="282.91" y="1296.1">G</tspan><tspan x="297.69" y="1296.1">G</tspan></text><rect x="269.19" y="1297.2" width="14.02" height="1.9" fill="#111"/><rect x="282.91" y="1297.2" width="15.08" height="1.9" fill="#111"/><rect x="297.69" y="1297.2" width="15.08" height="1.9" fill="#111"/></g>
<text x="1817.00" y="1298.4" font-size="24.2" textLength="99.50" lengthAdjust="spacingAndGlyphs" stroke="#000" stroke-width="0.35">intergenic</text>
<text x="1982.5" y="1301.1" font-size="26" font-weight="bold" text-anchor="middle">-</text>
<text x="1059.34" y="1343.5" font-size="24.2" textLength="60.69" lengthAdjust="spacingAndGlyphs" stroke="#000" stroke-width="0.35">OT27</text>
<text x="1155.43" y="1343.5" font-size="24.2" textLength="12.15" lengthAdjust="spacingAndGlyphs" stroke="#000" stroke-width="0.35">8</text>
<text x="1203.31" y="1343.5" font-size="24.2" textLength="97.40" lengthAdjust="spacingAndGlyphs" stroke="#000" stroke-width="0.35">63020684</text>
<text x="1321.91" y="1343.5" font-size="24.2" textLength="97.68" lengthAdjust="spacingAndGlyphs" stroke="#000" stroke-width="0.35">63020705</text>
<text x="1466.1" y="1347.0" font-size="35.5" text-anchor="middle" stroke="#000" stroke-width="0.45">+</text>
<g transform="translate(1509.19,0) scale(0.947,1)"><text y="1341.2" font-size="19.0" stroke="#000" stroke-width="0.3"><tspan x="0.00" y="1341.2">G</tspan><tspan x="14.78" y="1341.2">G</tspan><tspan x="29.56" y="1341.2">C</tspan><tspan x="43.28" y="1341.2">A</tspan><tspan x="55.95" y="1341.2">A</tspan><tspan x="68.62" y="1341.2">G</tspan><tspan x="83.40" y="1341.2">A</tspan><tspan x="96.08" y="1341.2">A</tspan><tspan x="108.75" y="1341.2">G</tspan><tspan x="123.53" y="1341.2">C</tspan><tspan x="137.25" y="1341.2">A</tspan><tspan x="149.92" y="1341.2">T</tspan><tspan x="161.53" y="1341.2">G</tspan><tspan x="176.31" y="1341.2">G</tspan><tspan x="191.09" y="1341.2">C</tspan><tspan x="204.81" y="1341.2" fill="#c4262e" stroke="#c4262e">T</tspan><tspan x="216.41" y="1340.5" fill="#c4262e" stroke="#c4262e" stroke-width="2.0">_</tspan><tspan x="226.98" y="1341.2">C</tspan><tspan x="240.70" y="1341.2" fill="#c4262e" stroke="#c4262e">T</tspan><tspan x="252.31" y="1341.2">G</tspan><tspan x="267.09" y="1341.2">N</tspan><tspan x="280.81" y="1341.2">G</tspan><tspan x="295.59" y="1341.2">G</tspan></text><rect x="267.09" y="1342.3" width="14.02" height="1.9" fill="#111"/><rect x="280.81" y="1342.3" width="15.08" height="1.9" fill="#111"/><rect x="295.59" y="1342.3" width="15.08" height="1.9" fill="#111"/></g>
<text x="1835.85" y="1343.5" font-size="24.2" textLength="61.95" lengthAdjust="spacingAndGlyphs" stroke="#000" stroke-width="0.35">intron</text>
<text x="1958.29" y="1344.2" font-size="24.2" font-style="italic" textLength="46.49" lengthAdjust="spacingAndGlyphs" stroke="#000" stroke-width="0.35">GGH</text>
<text x="1059.35" y="1388.6" font-size="24.2" textLength="60.51" lengthAdjust="spacingAndGlyphs" stroke="#000" stroke-width="0.35">OT28</text>
<text x="1152.61" y="1388.6" font-size="24.2" textLength="17.75" lengthAdjust="spacingAndGlyphs" stroke="#000" stroke-width="0.35">X</text>
<text x="1203.59" y="1388.6" font-size="24.2" textLength="97.44" lengthAdjust="spacingAndGlyphs" stroke="#000" stroke-width="0.35">38930273</text>
<text x="1322.19" y="1388.6" font-size="24.2" textLength="97.12" lengthAdjust="spacingAndGlyphs" stroke="#000" stroke-width="0.35">38930294</text>
<text x="1466.1" y="1394.8" font-size="36" font-weight="bold" text-anchor="middle">-</text>
<g transform="translate(1509.18,0) scale(0.947,1)"><text y="1386.3" font-size="19.0" stroke="#000" stroke-width="0.3"><tspan x="0.00" y="1386.3">G</tspan><tspan x="14.78" y="1386.3">G</tspan><tspan x="29.56" y="1386.3">C</tspan><tspan x="43.28" y="1386.3">A</tspan><tspan x="55.95" y="1386.3">A</tspan><tspan x="68.62" y="1386.3">G</tspan><tspan x="83.40" y="1386.3">A</tspan><tspan x="96.08" y="1386.3">A</tspan><tspan x="108.75" y="1386.3">G</tspan><tspan x="123.53" y="1386.3">C</tspan><tspan x="137.25" y="1386.3">A</tspan><tspan x="149.92" y="1386.3">T</tspan><tspan x="161.53" y="1385.6" fill="#c4262e" stroke="#c4262e" stroke-width="2.0">_</tspan><tspan x="172.09" y="1386.3">G</tspan><tspan x="186.87" y="1386.3">C</tspan><tspan x="200.59" y="1386.3">C</tspan><tspan x="214.32" y="1386.3">A</tspan><tspan x="226.99" y="1386.3" fill="#c4262e" stroke="#c4262e">A</tspan><tspan x="239.66" y="1386.3" fill="#c4262e" stroke="#c4262e">A</tspan><tspan x="252.33" y="1386.3">G</tspan><tspan x="267.11" y="1386.3">N</tspan><tspan x="280.83" y="1386.3">G</tspan><tspan x="295.61" y="1386.3">G</tspan></text><rect x="267.11" y="1387.4" width="14.02" height="1.9" fill="#111"/><rect x="280.83" y="1387.4" width="15.08" height="1.9" fill="#111"/><rect x="295.61" y="1387.4" width="15.08" height="1.9" fill="#111"/></g>
<text x="1817.00" y="1388.6" font-size="24.2" textLength="99.50" lengthAdjust="spacingAndGlyphs" stroke="#000" stroke-width="0.35">intergenic</text>
<text x="1982.5" y="1391.3" font-size="26" font-weight="bold" text-anchor="middle">-</text>
<text x="1059.34" y="1433.7" font-size="24.2" textLength="60.61" lengthAdjust="spacingAndGlyphs" stroke="#000" stroke-width="0.35">OT29</text>
<text x="1155.55" y="1433.7" font-size="24.2" textLength="12.02" lengthAdjust="spacingAndGlyphs" stroke="#000" stroke-width="0.35">3</text>
<text x="1203.31" y="1433.7" font-size="24.2" textLength="97.87" lengthAdjust="spacingAndGlyphs" stroke="#000" stroke-width="0.35">66950667</text>
<text x="1321.91" y="1433.7" font-size="24.2" textLength="97.72" lengthAdjust="spacingAndGlyphs" stroke="#000" stroke-width="0.35">66950688</text>
<text x="1466.1" y="1439.9" font-size="36" font-weight="bold" text-anchor="middle">-</text>
<g transform="translate(1510.19,0) scale(0.947,1)"><text y="1431.4" font-size="19.0" stroke="#000" stroke-width="0.3"><tspan x="0.00" y="1431.4">G</tspan><tspan x="14.78" y="1431.4">G</tspan><tspan x="29.56" y="1431.4">C</tspan><tspan x="43.28" y="1431.4">A</tspan><tspan x="55.95" y="1431.4">A</tspan><tspan x="68.62" y="1431.4">G</tspan><tspan x="83.40" y="1431.4">A</tspan><tspan x="96.08" y="1431.4">A</tspan><tspan x="108.75" y="1431.4">G</tspan><tspan x="123.53" y="1430.7" fill="#c4262e" stroke="#c4262e" stroke-width="2.0">_</tspan><tspan x="134.09" y="1431.4">A</tspan><tspan x="146.77" y="1431.4">T</tspan><tspan x="158.37" y="1431.4">G</tspan><tspan x="173.15" y="1431.4">G</tspan><tspan x="187.93" y="1431.4">C</tspan><tspan x="201.65" y="1431.4">C</tspan><tspan x="215.37" y="1431.4">A</tspan><tspan x="228.05" y="1431.4" fill="#c4262e" stroke="#c4262e">T</tspan><tspan x="239.65" y="1431.4">C</tspan><tspan x="253.37" y="1431.4" fill="#c4262e" stroke="#c4262e">T</tspan><tspan x="264.98" y="1431.4">N</tspan><tspan x="278.70" y="1431.4">G</tspan><tspan x="293.48" y="1431.4">G</tspan></text><rect x="264.98" y="1432.5" width="14.02" height="1.9" fill="#111"/><rect x="278.70" y="1432.5" width="15.08" height="1.9" fill="#111"/><rect x="293.48" y="1432.5" width="15.08" height="1.9" fill="#111"/></g>
<text x="1817.00" y="1433.7" font-size="24.2" textLength="99.50" lengthAdjust="spacingAndGlyphs" stroke="#000" stroke-width="0.35">intergenic</text>
<text x="1982.5" y="1436.4" font-size="26" font-weight="bold" text-anchor="middle">-</text>
<text x="1059.35" y="1478.8" font-size="24.2" textLength="60.40" lengthAdjust="spacingAndGlyphs" stroke="#000" stroke-width="0.35">OT30</text>
<text x="1151.09" y="1478.8" font-size="24.2" textLength="22.61" lengthAdjust="spacingAndGlyphs" stroke="#000" stroke-width="0.35">16</text>
<text x="1203.32" y="1478.8" font-size="24.2" textLength="97.71" lengthAdjust="spacingAndGlyphs" stroke="#000" stroke-width="0.35">23501298</text>
<text x="1321.92" y="1478.8" font-size="24.2" textLength="97.79" lengthAdjust="spacingAndGlyphs" stroke="#000" stroke-width="0.35">23501319</text>
<text x="1466.1" y="1485.0" font-size="36" font-weight="bold" text-anchor="middle">-</text>
<g transform="translate(1509.19,0) scale(0.947,1)"><text y="1476.5" font-size="19.0" stroke="#000" stroke-width="0.3"><tspan x="0.00" y="1476.5">G</tspan><tspan x="14.78" y="1476.5">G</tspan><tspan x="29.56" y="1476.5">C</tspan><tspan x="43.28" y="1476.5">A</tspan><tspan x="55.95" y="1476.5">A</tspan><tspan x="68.62" y="1476.5">G</tspan><tspan x="83.40" y="1476.5">A</tspan><tspan x="96.08" y="1476.5">A</tspan><tspan x="108.75" y="1476.5">G</tspan><tspan x="123.53" y="1476.5">C</tspan><tspan x="137.25" y="1476.5">A</tspan><tspan x="149.92" y="1476.5">T</tspan><tspan x="161.53" y="1476.5">G</tspan><tspan x="176.31" y="1476.5">G</tspan><tspan x="191.09" y="1476.5">C</tspan><tspan x="204.81" y="1476.5" fill="#c4262e" stroke="#c4262e">T</tspan><tspan x="216.41" y="1475.8" fill="#c4262e" stroke="#c4262e" stroke-width="2.0">_</tspan><tspan x="226.98" y="1476.5">C</tspan><tspan x="240.70" y="1476.5">C</tspan><tspan x="254.42" y="1476.5" fill="#c4262e" stroke="#c4262e">A</tspan><tspan x="267.09" y="1476.5">N</tspan><tspan x="280.82" y="1476.5">G</tspan><tspan x="295.59" y="1476.5">G</tspan></text><rect x="267.09" y="1477.6" width="14.02" height="1.9" fill="#111"/><rect x="280.82" y="1477.6" width="15.08" height="1.9" fill="#111"/><rect x="295.59" y="1477.6" width="15.08" height="1.9" fill="#111"/></g>
<text x="1835.85" y="1478.8" font-size="24.2" textLength="61.95" lengthAdjust="spacingAndGlyphs" stroke="#000" stroke-width="0.35">intron</text>
<text x="1954.59" y="1479.5" font-size="24.2" font-style="italic" textLength="54.25" lengthAdjust="spacingAndGlyphs" stroke="#000" stroke-width="0.35">GGA2</text>
<text x="1059.39" y="1523.9" font-size="24.2" textLength="58.11" lengthAdjust="spacingAndGlyphs" stroke="#000" stroke-width="0.35">OT31</text>
<text x="1155.91" y="1523.9" font-size="24.2" textLength="11.31" lengthAdjust="spacingAndGlyphs" stroke="#000" stroke-width="0.35">4</text>
<text x="1199.12" y="1523.9" font-size="24.2" textLength="108.14" lengthAdjust="spacingAndGlyphs" stroke="#000" stroke-width="0.35">108864307</text>
<text x="1317.72" y="1523.9" font-size="24.2" textLength="107.99" lengthAdjust="spacingAndGlyphs" stroke="#000" stroke-width="0.35">108864328</text>
<text x="1466.1" y="1527.4" font-size="35.5" text-anchor="middle" stroke="#000" stroke-width="0.45">+</text>
<g transform="translate(1508.68,0) scale(0.947,1)"><text y="1521.6" font-size="19.0" stroke="#000" stroke-width="0.3"><tspan x="0.00" y="1521.6">G</tspan><tspan x="14.78" y="1521.6">G</tspan><tspan x="29.56" y="1521.6">C</tspan><tspan x="43.28" y="1521.6">A</tspan><tspan x="55.95" y="1521.6">A</tspan><tspan x="68.62" y="1521.6">G</tspan><tspan x="83.40" y="1521.6">A</tspan><tspan x="96.08" y="1521.6">A</tspan><tspan x="108.75" y="1521.6">G</tspan><tspan x="123.53" y="1521.6">C</tspan><tspan x="137.25" y="1521.6">A</tspan><tspan x="149.92" y="1521.6">T</tspan><tspan x="161.53" y="1521.6">G</tspan><tspan x="176.31" y="1521.6">G</tspan><tspan x="191.09" y="1521.6">C</tspan><tspan x="204.81" y="1520.9" fill="#c4262e" stroke="#c4262e" stroke-width="2.0">_</tspan><tspan x="215.37" y="1521.6">A</tspan><tspan x="228.05" y="1521.6" fill="#c4262e" stroke="#c4262e">A</tspan><tspan x="240.72" y="1521.6" fill="#c4262e" stroke="#c4262e">A</tspan><tspan x="253.39" y="1521.6">G</tspan><tspan x="268.17" y="1521.6">N</tspan><tspan x="281.89" y="1521.6">G</tspan><tspan x="296.67" y="1521.6">G</tspan></text><rect x="268.17" y="1522.7" width="14.02" height="1.9" fill="#111"/><rect x="281.89" y="1522.7" width="15.08" height="1.9" fill="#111"/><rect x="296.67" y="1522.7" width="15.08" height="1.9" fill="#111"/></g>
<text x="1835.85" y="1523.9" font-size="24.2" textLength="61.95" lengthAdjust="spacingAndGlyphs" stroke="#000" stroke-width="0.35">intron</text>
<text x="1938.81" y="1524.6" font-size="24.2" font-style="italic" textLength="87.07" lengthAdjust="spacingAndGlyphs" stroke="#000" stroke-width="0.35">COL25A1</text>
<text x="1059.34" y="1569.0" font-size="24.2" textLength="60.69" lengthAdjust="spacingAndGlyphs" stroke="#000" stroke-width="0.35">OT32</text>
<text x="1155.57" y="1569.0" font-size="24.2" textLength="11.31" lengthAdjust="spacingAndGlyphs" stroke="#000" stroke-width="0.35">1</text>
<text x="1199.12" y="1569.0" font-size="24.2" textLength="107.99" lengthAdjust="spacingAndGlyphs" stroke="#000" stroke-width="0.35">155655358</text>
<text x="1317.72" y="1569.0" font-size="24.2" textLength="107.89" lengthAdjust="spacingAndGlyphs" stroke="#000" stroke-width="0.35">155655380</text>
<text x="1466.1" y="1572.5" font-size="35.5" text-anchor="middle" stroke="#000" stroke-width="0.45">+</text>
<g transform="translate(1507.70,0) scale(0.947,1)"><text y="1566.7" font-size="19.0" stroke="#000" stroke-width="0.3"><tspan x="0.00" y="1566.7">G</tspan><tspan x="14.78" y="1566.7">G</tspan><tspan x="29.56" y="1566.7">C</tspan><tspan x="43.28" y="1566.7">A</tspan><tspan x="55.95" y="1566.7">A</tspan><tspan x="68.62" y="1566.7">G</tspan><tspan x="83.40" y="1566.7" fill="#c4262e" stroke="#c4262e">C</tspan><tspan x="97.12" y="1566.7">A</tspan><tspan x="109.80" y="1566.7">G</tspan><tspan x="124.58" y="1566.7">C</tspan><tspan x="138.30" y="1566.7" fill="#c4262e" stroke="#c4262e">T</tspan><tspan x="149.90" y="1566.7">T</tspan><tspan x="161.51" y="1566.7">G</tspan><tspan x="176.29" y="1566.7">G</tspan><tspan x="191.07" y="1566.7">C</tspan><tspan x="204.79" y="1566.7">C</tspan><tspan x="218.51" y="1566.7">A</tspan><tspan x="231.18" y="1566.7">C</tspan><tspan x="244.90" y="1566.7">C</tspan><tspan x="258.62" y="1566.7">G</tspan><tspan x="273.40" y="1566.7">N</tspan><tspan x="287.12" y="1566.7">G</tspan><tspan x="301.90" y="1566.7" fill="#c4262e" stroke="#c4262e">T</tspan></text><rect x="273.40" y="1567.8" width="14.02" height="1.9" fill="#111"/><rect x="287.12" y="1567.8" width="15.08" height="1.9" fill="#111"/><rect x="301.90" y="1567.8" width="11.91" height="1.9" fill="#c4262e"/></g>
<text x="1817.00" y="1569.0" font-size="24.2" textLength="99.50" lengthAdjust="spacingAndGlyphs" stroke="#000" stroke-width="0.35">intergenic</text>
<text x="1982.5" y="1571.7" font-size="26" font-weight="bold" text-anchor="middle">-</text>
<text x="1059.35" y="1614.1" font-size="24.2" textLength="60.53" lengthAdjust="spacingAndGlyphs" stroke="#000" stroke-width="0.35">OT33</text>
<text x="1151.15" y="1614.1" font-size="24.2" textLength="22.61" lengthAdjust="spacingAndGlyphs" stroke="#000" stroke-width="0.35">17</text>
<text x="1203.47" y="1614.1" font-size="24.2" textLength="97.55" lengthAdjust="spacingAndGlyphs" stroke="#000" stroke-width="0.35">81371898</text>
<text x="1322.07" y="1614.1" font-size="24.2" textLength="97.64" lengthAdjust="spacingAndGlyphs" stroke="#000" stroke-width="0.35">81371919</text>
<text x="1466.1" y="1620.3" font-size="36" font-weight="bold" text-anchor="middle">-</text>
<g transform="translate(1507.19,0) scale(0.947,1)"><text y="1611.8" font-size="19.0" stroke="#000" stroke-width="0.3"><tspan x="0.00" y="1611.8">G</tspan><tspan x="14.78" y="1611.8">G</tspan><tspan x="29.56" y="1611.8">C</tspan><tspan x="43.28" y="1611.8" fill="#c4262e" stroke="#c4262e">C</tspan><tspan x="57.00" y="1611.8">A</tspan><tspan x="69.67" y="1611.8">G</tspan><tspan x="84.45" y="1611.8">A</tspan><tspan x="97.12" y="1611.8">A</tspan><tspan x="109.80" y="1611.8">G</tspan><tspan x="124.58" y="1611.8">C</tspan><tspan x="138.30" y="1611.1" fill="#c4262e" stroke="#c4262e" stroke-width="2.0">_</tspan><tspan x="148.86" y="1611.8">T</tspan><tspan x="160.47" y="1611.8">G</tspan><tspan x="175.25" y="1611.8">G</tspan><tspan x="190.03" y="1611.8">C</tspan><tspan x="203.75" y="1611.8">C</tspan><tspan x="217.47" y="1611.8">A</tspan><tspan x="230.14" y="1611.8">C</tspan><tspan x="243.86" y="1611.8">C</tspan><tspan x="257.59" y="1611.8">G</tspan><tspan x="272.36" y="1611.8">N</tspan><tspan x="286.09" y="1611.8" fill="#c4262e" stroke="#c4262e">C</tspan><tspan x="299.81" y="1611.8">G</tspan></text><rect x="272.36" y="1612.9" width="14.02" height="1.9" fill="#111"/><rect x="286.09" y="1612.9" width="14.02" height="1.9" fill="#c4262e"/><rect x="299.81" y="1612.9" width="15.08" height="1.9" fill="#111"/></g>
<text x="1817.00" y="1614.1" font-size="24.2" textLength="99.50" lengthAdjust="spacingAndGlyphs" stroke="#000" stroke-width="0.35">intergenic</text>
<text x="1982.5" y="1616.8" font-size="26" font-weight="bold" text-anchor="middle">-</text>
<text x="1059.35" y="1659.2" font-size="24.2" textLength="60.16" lengthAdjust="spacingAndGlyphs" stroke="#000" stroke-width="0.35">OT34</text>
<text x="1151.15" y="1659.2" font-size="24.2" textLength="22.61" lengthAdjust="spacingAndGlyphs" stroke="#000" stroke-width="0.35">17</text>
<text x="1209.42" y="1659.2" font-size="24.2" textLength="85.47" lengthAdjust="spacingAndGlyphs" stroke="#000" stroke-width="0.35">2693605</text>
<text x="1328.02" y="1659.2" font-size="24.2" textLength="85.52" lengthAdjust="spacingAndGlyphs" stroke="#000" stroke-width="0.35">2693626</text>
<text x="1466.1" y="1665.4" font-size="36" font-weight="bold" text-anchor="middle">-</text>
<g transform="translate(1507.69,0) scale(0.947,1)"><text y="1656.9" font-size="19.0" stroke="#000" stroke-width="0.3"><tspan x="0.00" y="1656.9">G</tspan><tspan x="14.78" y="1656.9">G</tspan><tspan x="29.56" y="1656.9">C</tspan><tspan x="43.28" y="1656.9">A</tspan><tspan x="55.95" y="1656.9" fill="#c4262e" stroke="#c4262e">G</tspan><tspan x="70.73" y="1656.9">G</tspan><tspan x="85.51" y="1656.9">A</tspan><tspan x="98.18" y="1656.9">A</tspan><tspan x="110.85" y="1656.9">G</tspan><tspan x="125.63" y="1656.9">C</tspan><tspan x="139.35" y="1656.9">A</tspan><tspan x="152.03" y="1656.9">T</tspan><tspan x="163.63" y="1656.9">G</tspan><tspan x="178.41" y="1656.2" fill="#c4262e" stroke="#c4262e" stroke-width="2.0">_</tspan><tspan x="188.98" y="1656.9">C</tspan><tspan x="202.70" y="1656.9">C</tspan><tspan x="216.42" y="1656.9">A</tspan><tspan x="229.09" y="1656.9">C</tspan><tspan x="242.82" y="1656.9">C</tspan><tspan x="256.54" y="1656.9">G</tspan><tspan x="271.32" y="1656.9">N</tspan><tspan x="285.04" y="1656.9">G</tspan><tspan x="299.82" y="1656.9" fill="#c4262e" stroke="#c4262e">C</tspan></text><rect x="271.32" y="1658.0" width="14.02" height="1.9" fill="#111"/><rect x="285.04" y="1658.0" width="15.08" height="1.9" fill="#111"/><rect x="299.82" y="1658.0" width="14.02" height="1.9" fill="#c4262e"/></g>
<text x="1835.85" y="1659.2" font-size="24.2" textLength="61.95" lengthAdjust="spacingAndGlyphs" stroke="#000" stroke-width="0.35">intron</text>
<text x="1953.67" y="1659.9" font-size="24.2" font-style="italic" textLength="55.61" lengthAdjust="spacingAndGlyphs" stroke="#000" stroke-width="0.35">CLUH</text>
<text x="1059.35" y="1704.3" font-size="24.2" textLength="60.48" lengthAdjust="spacingAndGlyphs" stroke="#000" stroke-width="0.35">OT35</text>
<text x="1155.34" y="1704.3" font-size="24.2" textLength="12.34" lengthAdjust="spacingAndGlyphs" stroke="#000" stroke-width="0.35">9</text>
<text x="1199.12" y="1704.3" font-size="24.2" textLength="107.99" lengthAdjust="spacingAndGlyphs" stroke="#000" stroke-width="0.35">119980958</text>
<text x="1317.72" y="1704.3" font-size="24.2" textLength="108.08" lengthAdjust="spacingAndGlyphs" stroke="#000" stroke-width="0.35">119980979</text>
<text x="1466.1" y="1707.8" font-size="35.5" text-anchor="middle" stroke="#000" stroke-width="0.45">+</text>
<g transform="translate(1509.68,0) scale(0.947,1)"><text y="1702.0" font-size="19.0" stroke="#000" stroke-width="0.3"><tspan x="0.00" y="1702.0">G</tspan><tspan x="14.78" y="1702.0">G</tspan><tspan x="29.56" y="1702.0">C</tspan><tspan x="43.28" y="1702.0">A</tspan><tspan x="55.95" y="1702.0">A</tspan><tspan x="68.62" y="1701.3" fill="#c4262e" stroke="#c4262e" stroke-width="2.0">_</tspan><tspan x="79.19" y="1702.0">A</tspan><tspan x="91.86" y="1702.0">A</tspan><tspan x="104.54" y="1702.0">G</tspan><tspan x="119.32" y="1702.0">C</tspan><tspan x="133.04" y="1702.0">A</tspan><tspan x="145.71" y="1702.0">T</tspan><tspan x="157.32" y="1702.0">G</tspan><tspan x="172.09" y="1702.0">G</tspan><tspan x="186.87" y="1702.0" fill="#c4262e" stroke="#c4262e">A</tspan><tspan x="199.55" y="1702.0">C</tspan><tspan x="213.27" y="1702.0">A</tspan><tspan x="225.94" y="1702.0">C</tspan><tspan x="239.66" y="1702.0">C</tspan><tspan x="253.38" y="1702.0">G</tspan><tspan x="268.16" y="1702.0">N</tspan><tspan x="281.88" y="1702.0" fill="#c4262e" stroke="#c4262e">A</tspan><tspan x="294.56" y="1702.0">G</tspan></text><rect x="268.16" y="1703.1" width="14.02" height="1.9" fill="#111"/><rect x="281.88" y="1703.1" width="12.97" height="1.9" fill="#c4262e"/><rect x="294.56" y="1703.1" width="15.08" height="1.9" fill="#111"/></g>
<text x="1817.00" y="1704.3" font-size="24.2" textLength="99.50" lengthAdjust="spacingAndGlyphs" stroke="#000" stroke-width="0.35">intergenic</text>
<text x="1982.5" y="1707.0" font-size="26" font-weight="bold" text-anchor="middle">-</text>
<text x="1059.35" y="1749.4" font-size="24.2" textLength="60.53" lengthAdjust="spacingAndGlyphs" stroke="#000" stroke-width="0.35">OT36</text>
<text x="1151.15" y="1749.4" font-size="24.2" textLength="22.61" lengthAdjust="spacingAndGlyphs" stroke="#000" stroke-width="0.35">17</text>
<text x="1203.30" y="1749.4" font-size="24.2" textLength="97.82" lengthAdjust="spacingAndGlyphs" stroke="#000" stroke-width="0.35">78854799</text>
<text x="1321.90" y="1749.4" font-size="24.2" textLength="97.88" lengthAdjust="spacingAndGlyphs" stroke="#000" stroke-width="0.35">78854822</text>
<text x="1466.1" y="1752.9" font-size="35.5" text-anchor="middle" stroke="#000" stroke-width="0.45">+</text>
<g transform="translate(1508.68,0) scale(0.947,1)"><text y="1747.1" font-size="19.0" stroke="#000" stroke-width="0.3"><tspan x="0.00" y="1747.1">G</tspan><tspan x="14.78" y="1747.1">C</tspan><tspan x="28.50" y="1747.1">A</tspan><tspan x="41.17" y="1747.1">A</tspan><tspan x="53.85" y="1747.1">G</tspan><tspan x="68.62" y="1747.1">A</tspan><tspan x="81.30" y="1747.1">A</tspan><tspan x="93.97" y="1747.1">G</tspan><tspan x="108.75" y="1747.1">C</tspan><tspan x="122.47" y="1747.1">A</tspan><tspan x="135.14" y="1747.1" fill="#c4262e" stroke="#c4262e">A</tspan><tspan x="147.82" y="1747.1">T</tspan><tspan x="159.42" y="1747.1">G</tspan><tspan x="174.20" y="1747.1">G</tspan><tspan x="188.98" y="1747.1">C</tspan><tspan x="202.70" y="1747.1" fill="#c4262e" stroke="#c4262e">A</tspan><tspan x="215.37" y="1747.1">A</tspan><tspan x="228.05" y="1747.1">C</tspan><tspan x="241.77" y="1747.1">C</tspan><tspan x="255.49" y="1747.1">G</tspan><tspan x="270.27" y="1747.1">N</tspan><tspan x="283.99" y="1747.1" fill="#c4262e" stroke="#c4262e">A</tspan><tspan x="296.66" y="1747.1">G</tspan></text><rect x="270.27" y="1748.2" width="14.02" height="1.9" fill="#111"/><rect x="283.99" y="1748.2" width="12.97" height="1.9" fill="#c4262e"/><rect x="296.66" y="1748.2" width="15.08" height="1.9" fill="#111"/></g>
<text x="1831.69" y="1749.4" font-size="24.2" textLength="71.00" lengthAdjust="spacingAndGlyphs" stroke="#000" stroke-width="0.35">3' UTR</text>
<text x="1951.11" y="1750.1" font-size="24.2" font-style="italic" textLength="60.34" lengthAdjust="spacingAndGlyphs" stroke="#000" stroke-width="0.35">TIMP2</text>
<text x="1059.34" y="1794.5" font-size="24.2" textLength="60.69" lengthAdjust="spacingAndGlyphs" stroke="#000" stroke-width="0.35">OT37</text>
<text x="1155.24" y="1794.5" font-size="24.2" textLength="12.51" lengthAdjust="spacingAndGlyphs" stroke="#000" stroke-width="0.35">2</text>
<text x="1205.23" y="1794.5" font-size="24.2" textLength="95.69" lengthAdjust="spacingAndGlyphs" stroke="#000" stroke-width="0.35">15692810</text>
<text x="1323.87" y="1794.5" font-size="24.2" textLength="93.39" lengthAdjust="spacingAndGlyphs" stroke="#000" stroke-width="0.35">15692831</text>
<text x="1466.1" y="1800.7" font-size="36" font-weight="bold" text-anchor="middle">-</text>
<g transform="translate(1506.68,0) scale(0.947,1)"><text y="1792.2" font-size="19.0" stroke="#000" stroke-width="0.3"><tspan x="0.00" y="1792.2">G</tspan><tspan x="14.78" y="1792.2">G</tspan><tspan x="29.56" y="1792.2">C</tspan><tspan x="43.28" y="1792.2">A</tspan><tspan x="55.95" y="1792.2">A</tspan><tspan x="68.62" y="1792.2">G</tspan><tspan x="83.40" y="1792.2">A</tspan><tspan x="96.08" y="1792.2">A</tspan><tspan x="108.75" y="1792.2">G</tspan><tspan x="123.53" y="1792.2">C</tspan><tspan x="137.25" y="1792.2">A</tspan><tspan x="149.92" y="1792.2" fill="#c4262e" stroke="#c4262e">G</tspan><tspan x="164.70" y="1792.2">G</tspan><tspan x="179.48" y="1792.2">G</tspan><tspan x="194.26" y="1792.2">C</tspan><tspan x="207.98" y="1792.2">C</tspan><tspan x="221.70" y="1791.5" fill="#c4262e" stroke="#c4262e" stroke-width="2.0">_</tspan><tspan x="232.27" y="1792.2">C</tspan><tspan x="245.99" y="1792.2">C</tspan><tspan x="259.71" y="1792.2">G</tspan><tspan x="274.49" y="1792.2">N</tspan><tspan x="288.21" y="1792.2">G</tspan><tspan x="302.99" y="1792.2" fill="#c4262e" stroke="#c4262e">A</tspan></text><rect x="274.49" y="1793.3" width="14.02" height="1.9" fill="#111"/><rect x="288.21" y="1793.3" width="15.08" height="1.9" fill="#111"/><rect x="302.99" y="1793.3" width="12.97" height="1.9" fill="#c4262e"/></g>
<text x="1835.85" y="1794.5" font-size="24.2" textLength="61.95" lengthAdjust="spacingAndGlyphs" stroke="#000" stroke-width="0.35">intron</text>
<text x="1927.28" y="1795.2" font-size="24.2" font-style="italic" textLength="109.68" lengthAdjust="spacingAndGlyphs" stroke="#000" stroke-width="0.35">LINC01804</text>
<text x="1059.35" y="1839.6" font-size="24.2" textLength="60.51" lengthAdjust="spacingAndGlyphs" stroke="#000" stroke-width="0.35">OT38</text>
<text x="1155.43" y="1839.6" font-size="24.2" textLength="12.15" lengthAdjust="spacingAndGlyphs" stroke="#000" stroke-width="0.35">8</text>
<text x="1199.12" y="1839.6" font-size="24.2" textLength="107.96" lengthAdjust="spacingAndGlyphs" stroke="#000" stroke-width="0.35">131002525</text>
<text x="1317.72" y="1839.6" font-size="24.2" textLength="108.14" lengthAdjust="spacingAndGlyphs" stroke="#000" stroke-width="0.35">131002547</text>
<text x="1466.1" y="1845.8" font-size="36" font-weight="bold" text-anchor="middle">-</text>
<g transform="translate(1508.68,0) scale(0.947,1)"><text y="1837.3" font-size="19.0" stroke="#000" stroke-width="0.3"><tspan x="0.00" y="1837.3">G</tspan><tspan x="14.78" y="1837.3">G</tspan><tspan x="29.56" y="1837.3">C</tspan><tspan x="43.28" y="1837.3">A</tspan><tspan x="55.95" y="1837.3" fill="#c4262e" stroke="#c4262e">G</tspan><tspan x="70.73" y="1837.3">G</tspan><tspan x="85.51" y="1837.3">A</tspan><tspan x="98.18" y="1837.3">A</tspan><tspan x="110.85" y="1837.3">G</tspan><tspan x="125.63" y="1837.3">C</tspan><tspan x="139.35" y="1837.3">A</tspan><tspan x="152.03" y="1837.3">T</tspan><tspan x="163.63" y="1837.3">G</tspan><tspan x="178.41" y="1837.3">G</tspan><tspan x="193.19" y="1837.3">C</tspan><tspan x="206.91" y="1837.3">C</tspan><tspan x="220.63" y="1837.3">A</tspan><tspan x="233.31" y="1837.3">C</tspan><tspan x="247.03" y="1836.6" fill="#c4262e" stroke="#c4262e" stroke-width="2.0">_</tspan><tspan x="257.59" y="1837.3" fill="#c4262e" stroke="#c4262e">A</tspan><tspan x="270.27" y="1837.3">N</tspan><tspan x="283.99" y="1837.3" fill="#c4262e" stroke="#c4262e">A</tspan><tspan x="296.66" y="1837.3">G</tspan></text><rect x="270.27" y="1838.4" width="14.02" height="1.9" fill="#111"/><rect x="283.99" y="1838.4" width="12.97" height="1.9" fill="#c4262e"/><rect x="296.66" y="1838.4" width="15.08" height="1.9" fill="#111"/></g>
<text x="1835.85" y="1839.6" font-size="24.2" textLength="61.95" lengthAdjust="spacingAndGlyphs" stroke="#000" stroke-width="0.35">intron</text>
<text x="1949.82" y="1840.3" font-size="24.2" font-style="italic" textLength="65.55" lengthAdjust="spacingAndGlyphs" stroke="#000" stroke-width="0.35">ADCY8</text>
<text x="1059.34" y="1884.7" font-size="24.2" textLength="60.61" lengthAdjust="spacingAndGlyphs" stroke="#000" stroke-width="0.35">OT39</text>
<text x="1155.55" y="1884.7" font-size="24.2" textLength="12.02" lengthAdjust="spacingAndGlyphs" stroke="#000" stroke-width="0.35">3</text>
<text x="1203.47" y="1884.7" font-size="24.2" textLength="97.71" lengthAdjust="spacingAndGlyphs" stroke="#000" stroke-width="0.35">81026992</text>
<text x="1322.08" y="1884.7" font-size="24.2" textLength="97.24" lengthAdjust="spacingAndGlyphs" stroke="#000" stroke-width="0.35">81027014</text>
<text x="1466.1" y="1890.9" font-size="36" font-weight="bold" text-anchor="middle">-</text>
<g transform="translate(1509.69,0) scale(0.947,1)"><text y="1882.4" font-size="19.0" stroke="#000" stroke-width="0.3"><tspan x="0.00" y="1882.4">G</tspan><tspan x="14.78" y="1882.4">G</tspan><tspan x="29.56" y="1882.4">C</tspan><tspan x="43.28" y="1882.4">A</tspan><tspan x="55.95" y="1882.4">A</tspan><tspan x="68.62" y="1882.4">G</tspan><tspan x="83.40" y="1882.4">A</tspan><tspan x="96.08" y="1882.4">A</tspan><tspan x="108.75" y="1882.4">G</tspan><tspan x="123.53" y="1882.4">C</tspan><tspan x="137.25" y="1882.4">A</tspan><tspan x="149.92" y="1882.4">T</tspan><tspan x="161.53" y="1882.4" fill="#c4262e" stroke="#c4262e">T</tspan><tspan x="173.13" y="1882.4">G</tspan><tspan x="187.91" y="1882.4">C</tspan><tspan x="201.63" y="1882.4">C</tspan><tspan x="215.35" y="1882.4">A</tspan><tspan x="228.03" y="1882.4">C</tspan><tspan x="241.75" y="1882.4" fill="#c4262e" stroke="#c4262e">A</tspan><tspan x="254.42" y="1882.4">G</tspan><tspan x="269.20" y="1882.4">N</tspan><tspan x="282.92" y="1882.4" fill="#c4262e" stroke="#c4262e">T</tspan><tspan x="294.53" y="1882.4">G</tspan></text><rect x="269.20" y="1883.5" width="14.02" height="1.9" fill="#111"/><rect x="282.92" y="1883.5" width="11.91" height="1.9" fill="#c4262e"/><rect x="294.53" y="1883.5" width="15.08" height="1.9" fill="#111"/></g>
<text x="1835.85" y="1884.7" font-size="24.2" textLength="61.95" lengthAdjust="spacingAndGlyphs" stroke="#000" stroke-width="0.35">intron</text>
<text x="1927.39" y="1885.4" font-size="24.2" font-style="italic" textLength="108.00" lengthAdjust="spacingAndGlyphs" stroke="#000" stroke-width="0.35">LINC02027</text>
<text x="1059.35" y="1929.8" font-size="24.2" textLength="60.40" lengthAdjust="spacingAndGlyphs" stroke="#000" stroke-width="0.35">OT40</text>
<text x="1148.96" y="1929.8" font-size="24.2" textLength="22.61" lengthAdjust="spacingAndGlyphs" stroke="#000" stroke-width="0.35">21</text>
<text x="1203.32" y="1929.8" font-size="24.2" textLength="97.86" lengthAdjust="spacingAndGlyphs" stroke="#000" stroke-width="0.35">24341987</text>
<text x="1321.92" y="1929.8" font-size="24.2" textLength="97.61" lengthAdjust="spacingAndGlyphs" stroke="#000" stroke-width="0.35">24342010</text>
<text x="1466.1" y="1936.0" font-size="36" font-weight="bold" text-anchor="middle">-</text>
<g transform="translate(1509.19,0) scale(0.947,1)"><text y="1927.5" font-size="19.0" stroke="#000" stroke-width="0.3"><tspan x="0.00" y="1927.5">G</tspan><tspan x="14.78" y="1927.5">C</tspan><tspan x="28.50" y="1927.5">A</tspan><tspan x="41.17" y="1927.5">A</tspan><tspan x="53.85" y="1927.5">G</tspan><tspan x="68.62" y="1927.5" fill="#c4262e" stroke="#c4262e">C</tspan><tspan x="82.35" y="1927.5">A</tspan><tspan x="95.02" y="1927.5">A</tspan><tspan x="107.69" y="1927.5">G</tspan><tspan x="122.47" y="1927.5">C</tspan><tspan x="136.19" y="1927.5">A</tspan><tspan x="148.86" y="1927.5">T</tspan><tspan x="160.47" y="1927.5">G</tspan><tspan x="175.25" y="1927.5">G</tspan><tspan x="190.03" y="1927.5">C</tspan><tspan x="203.75" y="1927.5">C</tspan><tspan x="217.47" y="1927.5">A</tspan><tspan x="230.14" y="1927.5">C</tspan><tspan x="243.86" y="1927.5">C</tspan><tspan x="257.59" y="1927.5" fill="#c4262e" stroke="#c4262e">T</tspan><tspan x="269.19" y="1927.5">N</tspan><tspan x="282.91" y="1927.5" fill="#c4262e" stroke="#c4262e">A</tspan><tspan x="295.59" y="1927.5">G</tspan></text><rect x="269.19" y="1928.6" width="14.02" height="1.9" fill="#111"/><rect x="282.91" y="1928.6" width="12.97" height="1.9" fill="#c4262e"/><rect x="295.59" y="1928.6" width="15.08" height="1.9" fill="#111"/></g>
<text x="1817.00" y="1929.8" font-size="24.2" textLength="99.50" lengthAdjust="spacingAndGlyphs" stroke="#000" stroke-width="0.35">intergenic</text>
<text x="1982.5" y="1932.5" font-size="26" font-weight="bold" text-anchor="middle">-</text></svg>
</body></html>
